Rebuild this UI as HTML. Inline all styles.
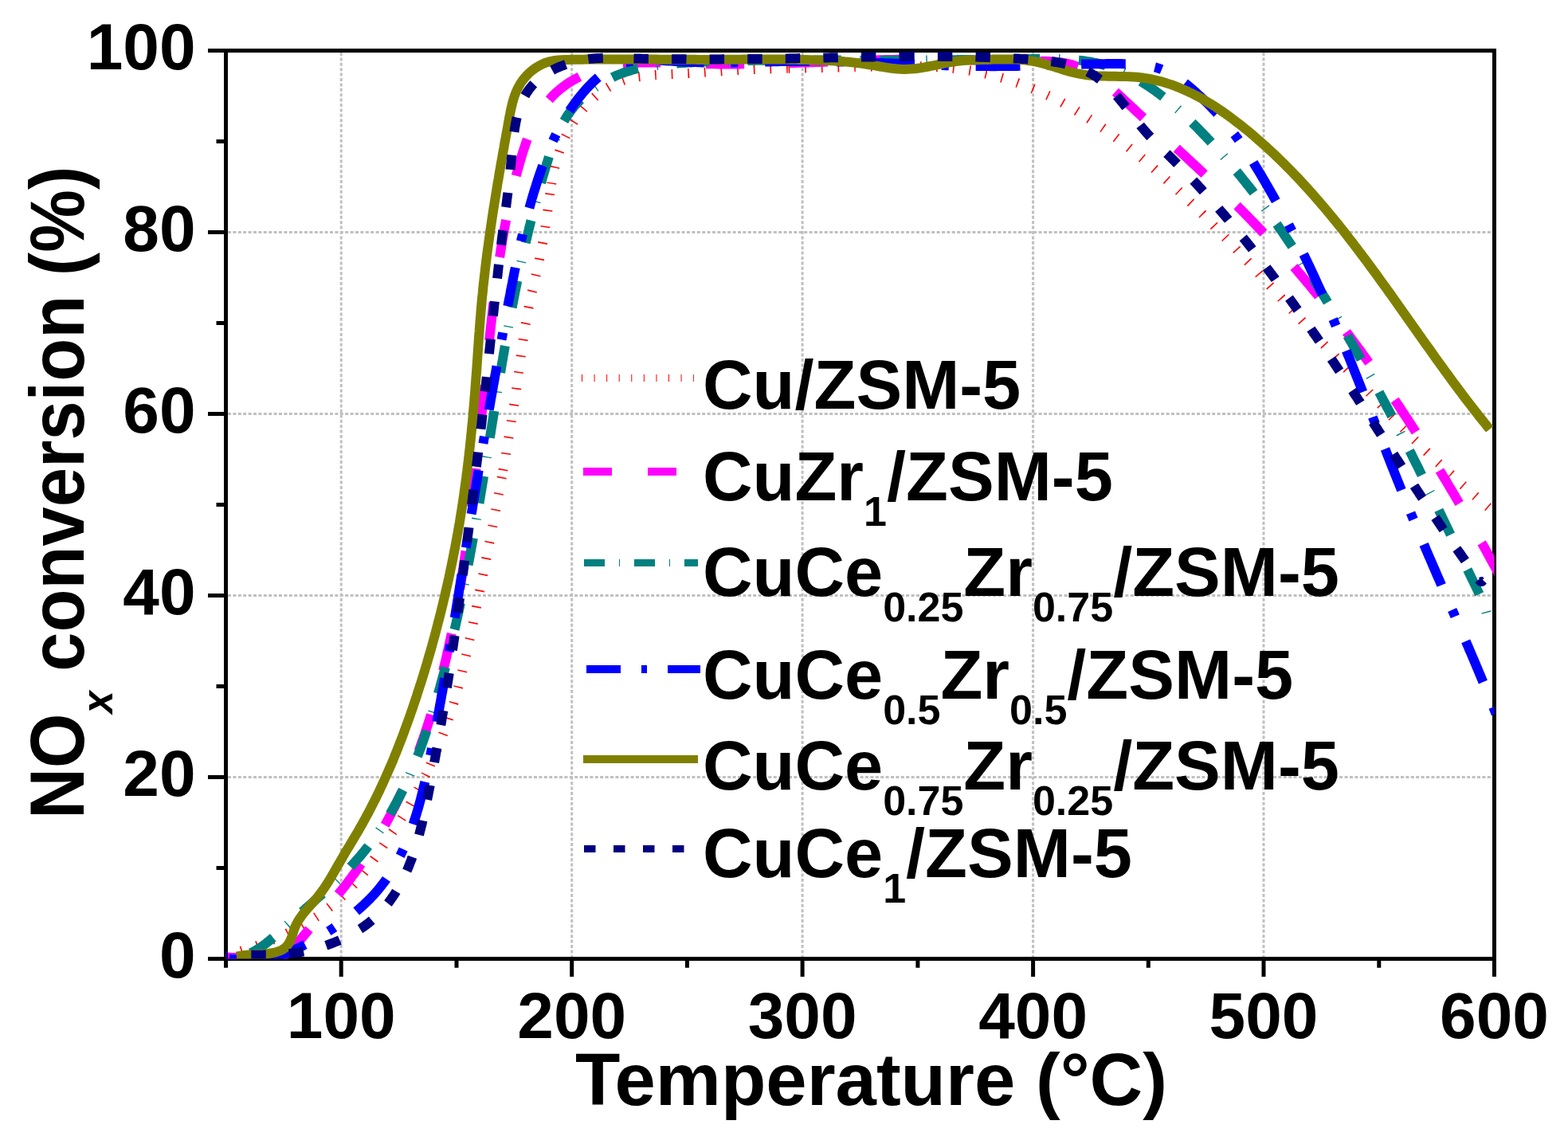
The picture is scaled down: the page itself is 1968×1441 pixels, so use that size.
<!DOCTYPE html><html><head><meta charset="utf-8"><title>NOx conversion vs Temperature</title>
<style>html,body{margin:0;padding:0;background:#fff;}svg{display:block;}text{font-family:'Liberation Sans', Arial, Helvetica, sans-serif;font-weight:bold;fill:#000;}</style></head><body>
<svg width="1968" height="1441" viewBox="0 0 1968 1441">
<rect x="0" y="0" width="1968" height="1441" fill="#fff"/>
<defs><clipPath id="pa"><rect x="283.5" y="63.5" width="1592.0" height="1140.0"/></clipPath></defs>
<path d="M428.2,66.0 V1201.0 M717.7,66.0 V1201.0 M1007.1,66.0 V1201.0 M1296.6,66.0 V1201.0 M1586.0,66.0 V1201.0 M286.0,975.5 H1873.0 M286.0,747.5 H1873.0 M286.0,519.5 H1873.0 M286.0,291.5 H1873.0" stroke="#c0c0c0" stroke-width="3" stroke-dasharray="4 2.4" fill="none"/>
<path d="M283.5,63.5 H1875.5 V1203.5 H283.5 Z" stroke="#000" stroke-width="5" fill="none"/>
<path d="M428.2,1203.5 V1226.0 M717.7,1203.5 V1226.0 M1007.1,1203.5 V1226.0 M1296.6,1203.5 V1226.0 M1586.0,1203.5 V1226.0 M1875.5,1203.5 V1226.0 M283.5,1203.5 V1214.8 M573.0,1203.5 V1214.8 M862.4,1203.5 V1214.8 M1151.9,1203.5 V1214.8 M1441.3,1203.5 V1214.8 M1730.8,1203.5 V1214.8 M283.5,1203.5 H261.0 M283.5,975.5 H261.0 M283.5,747.5 H261.0 M283.5,519.5 H261.0 M283.5,291.5 H261.0 M283.5,63.5 H261.0 M283.5,1089.5 H271.5 M283.5,861.5 H271.5 M283.5,633.5 H271.5 M283.5,405.5 H271.5 M283.5,177.5 H271.5" stroke="#000" stroke-width="5" fill="none" stroke-linecap="butt"/>
<g clip-path="url(#pa)" fill="none" stroke-width="12" stroke-linejoin="round">
<path d="M275.1,1201.7 L277.6,1201.1 L280.1,1200.4 L282.6,1199.7 L285.1,1199.0 L287.6,1198.3 L290.1,1197.6 L292.6,1196.8 L295.1,1196.1 L297.6,1195.3 L300.1,1194.6 L302.6,1193.8 L305.1,1193.0 L307.6,1192.2 L310.1,1191.4 L312.6,1190.6 L315.1,1189.7 L317.6,1188.9 L320.0,1188.0 L322.5,1187.1 L325.0,1186.3 L327.4,1185.4 L329.9,1184.4 L332.3,1183.5 L334.8,1182.6 L337.2,1181.6 L339.6,1180.6 L342.1,1179.6 L344.5,1178.6 L346.9,1177.6 L349.3,1176.6 L351.7,1175.5 L354.1,1174.5 L356.5,1173.4 L358.8,1172.3 L361.2,1171.1 L363.5,1170.0 L365.9,1168.8 L368.2,1167.7 L370.5,1166.5 L372.8,1165.3 L375.1,1164.0 L377.4,1162.8 L379.7,1161.5 L381.9,1160.2 L384.2,1158.9 L386.4,1157.6 L388.6,1156.2 L390.9,1154.9 L393.1,1153.5 L395.2,1152.0 L397.4,1150.6 L399.6,1149.2 L401.7,1147.7 L403.8,1146.2 L405.9,1144.6 L408.0,1143.1 L410.1,1141.5 L412.1,1139.9 L414.2,1138.3 L416.2,1136.7 L418.2,1135.0 L420.2,1133.3 L422.2,1131.6 L424.1,1129.9 L426.1,1128.2 L428.0,1126.4 L429.9,1124.6 L431.8,1122.8 L433.6,1121.0 L435.5,1119.1 L437.3,1117.3 L439.1,1115.4 L440.9,1113.5 L442.7,1111.6 L444.5,1109.7 L446.2,1107.8 L447.9,1105.8 L449.6,1103.9 L451.3,1101.9 L453.0,1099.9 L454.6,1097.9 L456.3,1095.9 L457.9,1093.9 L459.5,1091.9 L461.0,1089.9 L462.6,1087.8 L464.1,1085.8 L465.7,1083.7 L467.2,1081.7 L468.6,1079.6 L470.1,1077.5 L471.5,1075.5 L473.0,1073.4 L474.4,1071.3 L475.8,1069.2 L477.2,1067.1 L478.6,1065.1 L480.0,1063.0 L481.4,1060.9 L482.8,1058.8 L484.3,1056.7 L485.7,1054.7 L487.2,1052.6 L488.6,1050.5 L490.1,1048.4 L491.5,1046.3 L492.9,1044.2 L494.4,1042.1 L495.8,1040.0 L497.2,1037.9 L498.6,1035.7 L500.0,1033.6 L501.4,1031.4 L502.7,1029.3 L504.1,1027.1 L505.5,1024.9 L506.8,1022.7 L508.2,1020.5 L509.5,1018.3 L510.8,1016.1 L512.1,1013.9 L513.4,1011.7 L514.7,1009.4 L516.0,1007.2 L517.3,1004.9 L518.5,1002.7 L519.8,1000.4 L521.1,998.1 L522.3,995.8 L523.5,993.6 L524.8,991.3 L526.0,989.0 L527.2,986.6 L528.4,984.3 L529.5,982.0 L530.7,979.7 L531.9,977.3 L533.0,975.0 L534.2,972.7 L535.3,970.3 L536.4,967.9 L537.6,965.6 L538.7,963.2 L539.8,960.8 L540.3,959.6" stroke="#ff0000" stroke-dasharray="1.60 19.06" stroke-dashoffset="12.75"/>
<path d="M539.8,960.8 L540.8,958.4 L541.9,956.1 L543.0,953.7 L544.0,951.3 L545.1,948.9 L546.1,946.4 L547.2,944.0 L548.2,941.6 L549.2,939.2 L550.2,936.8 L551.2,934.3 L552.1,931.9 L553.1,929.4 L554.0,927.0 L555.0,924.5 L555.9,922.1 L556.8,919.6 L557.8,917.2 L558.7,914.7 L559.5,912.2 L560.4,909.8 L561.3,907.3 L562.2,904.8 L563.0,902.3 L563.8,899.8 L564.7,897.3 L565.5,894.9 L566.3,892.4 L567.1,889.9 L567.9,887.4 L568.6,884.9 L569.4,882.4 L570.1,879.8 L570.9,877.3 L571.6,874.8 L572.3,872.3 L573.1,869.8 L573.8,867.3 L574.5,864.7 L575.2,862.2 L575.8,859.7 L576.5,857.2 L577.2,854.6 L577.8,852.1 L578.5,849.5 L579.1,847.0 L579.8,844.5 L580.4,841.9 L581.0,839.4 L581.7,836.8 L582.3,834.3 L582.9,831.7 L583.5,829.2 L584.1,826.6 L584.7,824.1 L585.3,821.5 L585.8,819.0 L586.4,816.4 L587.0,813.9 L587.6,811.3 L588.1,808.8 L588.7,806.2 L589.2,803.6 L589.8,801.1 L590.3,798.5 L590.9,795.9 L591.4,793.4 L592.0,790.8 L592.5,788.2 L593.1,785.7 L593.6,783.1 L594.1,780.5 L594.7,778.0 L595.2,775.4 L595.7,772.8 L596.2,770.3 L596.8,767.7 L597.3,765.1 L597.8,762.6 L598.3,760.0 L598.9,757.4 L599.4,754.9 L599.9,752.3 L600.4,749.7 L601.0,747.2 L601.5,744.6 L602.0,742.0 L602.5,739.4 L603.1,736.9 L603.6,734.3 L604.1,731.7 L604.6,729.2 L605.1,726.6 L605.7,724.0 L606.2,721.5 L606.7,718.9 L607.2,716.3 L607.7,713.8 L608.2,711.2 L608.8,708.6 L609.3,706.1 L609.8,703.5 L610.3,700.9 L610.8,698.3 L611.3,695.8 L611.8,693.2 L612.4,690.6 L612.9,688.1 L613.4,685.5 L613.9,682.9 L614.4,680.4 L614.9,677.8 L615.4,675.2 L615.9,672.6 L616.4,670.1 L616.9,667.5 L617.4,664.9 L617.9,662.4 L618.4,659.8 L618.9,657.2 L619.4,654.6 L619.9,652.1 L620.4,649.5 L620.9,646.9 L621.4,644.4 L621.9,641.8 L622.4,639.2 L622.8,636.6 L623.3,634.1 L623.8,631.5 L624.3,628.9 L624.8,626.3 L625.3,623.8 L625.7,621.2 L626.2,618.6 L626.7,616.0 L627.2,613.5 L627.6,610.9 L628.1,608.3 L628.6,605.7 L629.1,603.1 L629.5,600.6 L630.0,598.0 L630.0,598.0" stroke="#ff0000" stroke-dasharray="1.60 19.06" stroke-dashoffset="20.11"/>
<path d="M629.8,599.3 L630.2,596.7 L630.7,594.1 L631.2,591.5 L631.6,589.0 L632.1,586.4 L632.5,583.8 L633.0,581.2 L633.4,578.6 L633.9,576.1 L634.3,573.5 L634.8,570.9 L635.2,568.3 L635.7,565.7 L636.1,563.2 L636.6,560.6 L637.0,558.0 L637.4,555.4 L637.9,552.8 L638.3,550.2 L638.7,547.6 L639.2,545.1 L639.6,542.5 L640.0,539.9 L640.4,537.3 L640.9,534.7 L641.3,532.1 L641.7,529.5 L642.1,526.9 L642.5,524.4 L642.9,521.8 L643.3,519.2 L643.8,516.6 L644.2,514.0 L644.6,511.4 L645.0,508.8 L645.4,506.2 L645.7,503.6 L646.1,501.0 L646.5,498.4 L646.9,495.8 L647.3,493.2 L647.7,490.6 L648.1,488.0 L648.4,485.4 L648.8,482.8 L649.2,480.2 L649.6,477.6 L649.9,475.0 L650.3,472.4 L650.6,469.8 L651.0,467.2 L651.4,464.6 L651.7,462.0 L652.1,459.4 L652.4,456.8 L652.8,454.2 L653.1,451.6 L653.5,449.0 L653.8,446.4 L654.2,443.8 L654.5,441.2 L654.9,438.6 L655.2,436.0 L655.6,433.4 L656.0,430.8 L656.3,428.2 L656.7,425.6 L657.1,423.0 L657.5,420.4 L657.9,417.8 L658.3,415.3 L658.7,412.7 L659.1,410.1 L659.5,407.5 L660.0,404.9 L660.4,402.4 L660.8,399.8 L661.3,397.2 L661.8,394.6 L662.3,392.1 L662.8,389.5 L663.3,387.0 L663.8,384.4 L664.3,381.9 L664.9,379.3 L665.4,376.8 L666.0,374.2 L666.5,371.7 L667.1,369.1 L667.7,366.6 L668.3,364.1 L668.9,361.5 L669.5,359.0 L670.1,356.5 L670.7,353.9 L671.3,351.4 L671.8,348.9 L672.4,346.3 L673.0,343.8 L673.6,341.3 L674.2,338.7 L674.8,336.2 L675.3,333.6 L675.9,331.1 L676.5,328.6 L677.0,326.0 L677.5,323.4 L678.1,320.9 L678.6,318.3 L679.1,315.8 L679.6,313.2 L680.1,310.6 L680.5,308.1 L681.0,305.5 L681.5,302.9 L681.9,300.3 L682.4,297.8 L682.8,295.2 L683.2,292.6 L683.6,290.0 L684.0,287.4 L684.4,284.9 L684.8,282.3 L685.2,279.7 L685.6,277.1 L686.0,274.5 L686.4,271.9 L686.7,269.4 L687.1,266.8 L687.4,264.2 L687.8,261.6 L688.1,259.0 L688.5,256.5 L688.8,253.9 L689.2,251.3 L689.5,248.7 L689.9,246.2 L690.2,243.6 L690.6,241.0 L691.0,238.5 L691.4,235.9 L691.8,233.4 L692.2,230.8 L692.4,229.5" stroke="#ff0000" stroke-dasharray="1.60 19.06" stroke-dashoffset="11.78"/>
<path d="M692.2,230.8 L692.6,228.3 L693.1,225.7 L693.6,223.2 L694.0,220.6 L694.6,218.1 L695.1,215.5 L695.7,213.0 L696.2,210.5 L696.8,208.0 L697.5,205.5 L698.2,202.9 L698.9,200.4 L699.6,197.9 L700.4,195.4 L701.2,192.9 L702.0,190.5 L702.9,188.0 L703.8,185.5 L704.8,183.0 L705.7,180.6 L706.8,178.1 L707.8,175.7 L708.9,173.3 L710.1,170.9 L711.3,168.5 L712.5,166.1 L713.7,163.8 L715.0,161.4 L716.3,159.1 L717.7,156.8 L719.1,154.6 L720.5,152.3 L721.9,150.1 L723.4,147.9 L725.0,145.7 L726.5,143.6 L728.1,141.5 L729.8,139.4 L731.4,137.4 L733.1,135.4 L734.9,133.4 L736.6,131.5 L738.4,129.6 L740.3,127.7 L742.1,125.9 L744.0,124.1 L746.0,122.3 L747.9,120.6 L749.9,119.0 L752.0,117.4 L754.0,115.8 L756.1,114.3 L758.2,112.8 L760.4,111.4 L762.6,110.0 L764.8,108.7 L767.0,107.5 L769.3,106.3 L771.6,105.2 L773.9,104.1 L776.3,103.1 L778.6,102.1 L781.0,101.3 L783.5,100.4 L785.9,99.7 L788.4,99.0 L790.9,98.4 L793.4,97.8 L796.0,97.3 L798.5,96.8 L801.1,96.3 L803.7,96.0 L806.3,95.6 L808.9,95.3 L811.6,95.0 L814.2,94.7 L816.8,94.5 L819.5,94.3 L822.2,94.1 L824.8,94.0 L827.5,93.8 L830.2,93.7 L832.9,93.6 L835.5,93.5 L838.2,93.3 L840.9,93.2 L843.6,93.1 L846.2,93.0 L848.9,92.8 L851.5,92.7 L854.2,92.6 L856.8,92.4 L859.5,92.3 L862.1,92.1 L864.8,92.0 L867.4,91.8 L870.0,91.6 L872.6,91.5 L875.3,91.3 L877.9,91.1 L880.5,91.0 L883.1,90.8 L885.7,90.6 L888.3,90.4 L891.0,90.3 L893.6,90.1 L896.2,89.9 L898.8,89.8 L901.4,89.6 L904.0,89.4 L906.6,89.2 L909.2,89.1 L911.8,88.9 L914.4,88.8 L917.0,88.6 L919.6,88.4 L922.2,88.3 L924.8,88.2 L927.4,88.0 L930.0,87.9 L932.6,87.7 L935.2,87.6 L937.8,87.5 L940.4,87.4 L943.0,87.3 L945.6,87.1 L948.2,87.0 L950.8,86.9 L953.4,86.8 L956.1,86.7 L958.7,86.7 L961.3,86.6 L963.9,86.5 L966.5,86.4 L969.1,86.3 L971.7,86.2 L974.4,86.2 L977.0,86.1 L979.6,86.0 L982.2,86.0 L984.8,85.9 L987.4,85.8 L990.1,85.8 L990.1,85.8" stroke="#ff0000" stroke-dasharray="1.60 19.06" stroke-dashoffset="0.11"/>
<path d="M988.7,85.8 L991.4,85.7 L994.0,85.7 L996.6,85.6 L999.2,85.6 L1001.8,85.5 L1004.5,85.5 L1007.1,85.4 L1009.7,85.4 L1012.3,85.3 L1015.0,85.3 L1017.6,85.2 L1020.2,85.2 L1022.8,85.1 L1025.5,85.1 L1028.1,85.0 L1030.7,85.0 L1033.3,84.9 L1036.0,84.9 L1038.6,84.8 L1041.2,84.8 L1043.8,84.7 L1046.5,84.7 L1049.1,84.6 L1051.7,84.6 L1054.3,84.5 L1057.0,84.5 L1059.6,84.4 L1062.2,84.4 L1064.9,84.3 L1067.5,84.3 L1070.1,84.2 L1072.7,84.1 L1075.4,84.1 L1078.0,84.0 L1080.6,83.9 L1083.3,83.9 L1085.9,83.8 L1088.5,83.7 L1091.2,83.7 L1093.8,83.6 L1096.4,83.5 L1099.0,83.5 L1101.7,83.4 L1104.3,83.3 L1106.9,83.3 L1109.5,83.2 L1112.2,83.2 L1114.8,83.1 L1117.4,83.1 L1120.0,83.0 L1122.7,83.0 L1125.3,83.0 L1127.9,83.0 L1130.5,82.9 L1133.2,82.9 L1135.8,82.9 L1138.4,82.9 L1141.0,82.9 L1143.6,83.0 L1146.3,83.0 L1148.9,83.0 L1151.5,83.1 L1154.1,83.1 L1156.7,83.2 L1159.3,83.3 L1162.0,83.4 L1164.6,83.5 L1167.2,83.6 L1169.8,83.7 L1172.4,83.8 L1175.0,84.0 L1177.6,84.2 L1180.2,84.3 L1182.8,84.5 L1185.4,84.7 L1188.0,84.9 L1190.6,85.2 L1193.2,85.4 L1195.8,85.7 L1198.4,86.0 L1201.0,86.3 L1203.6,86.6 L1206.2,86.9 L1208.7,87.3 L1211.3,87.7 L1213.9,88.1 L1216.5,88.5 L1219.1,88.9 L1221.7,89.4 L1224.2,89.8 L1226.8,90.3 L1229.4,90.8 L1231.9,91.4 L1234.5,91.9 L1237.1,92.5 L1239.6,93.1 L1242.2,93.7 L1244.7,94.3 L1247.3,94.9 L1249.8,95.6 L1252.4,96.3 L1254.9,97.0 L1257.4,97.7 L1259.9,98.4 L1262.5,99.2 L1265.0,100.0 L1267.5,100.7 L1270.0,101.6 L1272.5,102.4 L1275.0,103.2 L1277.5,104.1 L1279.9,105.0 L1282.4,105.9 L1284.9,106.8 L1287.3,107.7 L1289.8,108.7 L1292.2,109.6 L1294.6,110.6 L1297.1,111.6 L1299.5,112.6 L1301.9,113.7 L1304.3,114.7 L1306.7,115.8 L1309.1,116.9 L1311.4,118.0 L1313.8,119.1 L1316.2,120.2 L1318.5,121.3 L1320.9,122.5 L1323.2,123.7 L1325.5,124.9 L1327.9,126.1 L1330.2,127.3 L1332.5,128.5 L1334.8,129.8 L1337.1,131.0 L1339.4,132.3 L1341.6,133.6 L1343.9,134.9 L1346.2,136.2 L1348.4,137.5 L1350.7,138.8 L1352.9,140.2 L1352.9,140.2" stroke="#ff0000" stroke-dasharray="1.60 19.06" stroke-dashoffset="19.78"/>
<path d="M1351.8,139.5 L1354.0,140.9 L1356.3,142.2 L1358.5,143.6 L1360.7,145.0 L1362.9,146.4 L1365.1,147.8 L1367.3,149.3 L1369.5,150.7 L1371.7,152.1 L1373.9,153.6 L1376.0,155.1 L1378.2,156.5 L1380.4,158.0 L1382.5,159.5 L1384.7,161.0 L1386.8,162.5 L1388.9,164.1 L1391.0,165.6 L1393.2,167.1 L1395.3,168.7 L1397.4,170.3 L1399.5,171.8 L1401.6,173.4 L1403.7,175.0 L1405.8,176.6 L1407.8,178.2 L1409.9,179.8 L1412.0,181.4 L1414.0,183.0 L1416.1,184.6 L1418.2,186.3 L1420.2,187.9 L1422.2,189.5 L1424.3,191.2 L1426.3,192.8 L1428.3,194.5 L1430.3,196.2 L1432.4,197.8 L1434.4,199.5 L1436.4,201.2 L1438.4,202.9 L1440.4,204.6 L1442.3,206.3 L1444.3,208.0 L1446.3,209.7 L1448.3,211.4 L1450.3,213.2 L1452.2,214.9 L1454.2,216.6 L1456.1,218.4 L1458.1,220.1 L1460.0,221.8 L1462.0,223.6 L1463.9,225.4 L1465.8,227.1 L1467.8,228.9 L1469.7,230.7 L1471.6,232.4 L1473.5,234.2 L1475.5,236.0 L1477.4,237.8 L1479.3,239.6 L1481.2,241.4 L1483.1,243.2 L1485.0,245.0 L1486.9,246.8 L1488.7,248.6 L1490.6,250.4 L1492.5,252.3 L1494.4,254.1 L1496.3,255.9 L1498.1,257.8 L1500.0,259.6 L1501.9,261.4 L1503.7,263.3 L1505.6,265.1 L1507.4,267.0 L1509.3,268.8 L1511.1,270.7 L1513.0,272.5 L1514.8,274.4 L1516.6,276.3 L1518.5,278.1 L1520.3,280.0 L1522.2,281.9 L1524.0,283.8 L1525.8,285.7 L1527.6,287.5 L1529.5,289.4 L1531.3,291.3 L1533.1,293.2 L1534.9,295.1 L1536.7,297.0 L1538.5,298.9 L1540.3,300.8 L1542.1,302.7 L1543.9,304.6 L1545.7,306.5 L1547.5,308.4 L1549.3,310.3 L1551.1,312.2 L1552.9,314.2 L1554.7,316.1 L1556.5,318.0 L1558.3,319.9 L1560.1,321.8 L1561.9,323.7 L1563.7,325.7 L1565.4,327.6 L1567.2,329.5 L1569.0,331.4 L1570.8,333.4 L1572.6,335.3 L1574.3,337.2 L1576.1,339.2 L1577.9,341.1 L1579.7,343.0 L1581.4,345.0 L1583.2,346.9 L1585.0,348.8 L1586.8,350.8 L1588.5,352.7 L1590.3,354.7 L1592.1,356.6 L1593.8,358.5 L1595.6,360.5 L1597.4,362.4 L1599.1,364.3 L1600.9,366.3 L1602.7,368.2 L1604.4,370.2 L1606.2,372.1 L1608.0,374.0 L1609.7,376.0 L1611.5,377.9 L1613.3,379.8 L1615.0,381.8 L1616.8,383.7 L1618.6,385.7 L1620.3,387.6 L1622.1,389.5 L1623.9,391.5 L1625.2,392.9" stroke="#ff0000" stroke-dasharray="1.60 19.06" stroke-dashoffset="3.21"/>
<path d="M1624.3,391.9 L1626.1,393.9 L1627.9,395.8 L1629.6,397.7 L1631.4,399.7 L1633.2,401.6 L1634.9,403.5 L1636.7,405.4 L1638.5,407.4 L1640.3,409.3 L1642.0,411.2 L1643.8,413.1 L1645.6,415.1 L1647.4,417.0 L1649.1,418.9 L1650.9,420.8 L1652.7,422.7 L1654.5,424.7 L1656.3,426.6 L1658.0,428.5 L1659.8,430.4 L1661.6,432.3 L1663.4,434.2 L1665.2,436.1 L1667.0,438.0 L1668.7,440.0 L1670.5,441.9 L1672.3,443.8 L1674.1,445.7 L1675.9,447.6 L1677.7,449.5 L1679.5,451.4 L1681.2,453.3 L1683.0,455.2 L1684.8,457.1 L1686.6,459.0 L1688.4,460.9 L1690.2,462.8 L1692.0,464.7 L1693.8,466.6 L1695.6,468.5 L1697.4,470.4 L1699.1,472.3 L1700.9,474.2 L1702.7,476.1 L1704.5,478.0 L1706.3,479.9 L1708.1,481.8 L1709.9,483.7 L1711.7,485.6 L1713.5,487.5 L1715.3,489.4 L1717.1,491.3 L1718.9,493.2 L1720.7,495.1 L1722.5,497.0 L1724.3,498.9 L1726.1,500.8 L1727.9,502.7 L1729.7,504.6 L1731.5,506.5 L1733.3,508.4 L1735.1,510.3 L1736.9,512.2 L1738.7,514.1 L1740.5,516.0 L1742.3,517.9 L1744.1,519.8 L1745.9,521.7 L1747.7,523.6 L1749.5,525.5 L1751.3,527.3 L1753.1,529.2 L1754.9,531.1 L1756.7,533.0 L1758.5,534.9 L1760.4,536.8 L1762.2,538.6 L1764.0,540.5 L1765.8,542.4 L1767.7,544.3 L1769.5,546.1 L1771.3,548.0 L1773.2,549.8 L1775.0,551.7 L1776.9,553.5 L1778.7,555.4 L1780.6,557.2 L1782.4,559.1 L1784.3,560.9 L1786.2,562.7 L1788.1,564.5 L1789.9,566.4 L1791.8,568.2 L1793.7,570.0 L1795.6,571.8 L1797.5,573.6 L1799.4,575.4 L1801.3,577.2 L1803.2,579.0 L1805.1,580.8 L1807.0,582.5 L1808.9,584.3 L1810.8,586.1 L1812.8,587.9 L1814.7,589.6 L1816.6,591.4 L1818.5,593.2 L1820.5,594.9 L1822.4,596.7 L1824.3,598.4 L1826.3,600.2 L1828.2,601.9 L1830.2,603.7 L1832.1,605.4 L1834.1,607.2 L1836.0,608.9 L1838.0,610.6 L1840.0,612.4 L1841.9,614.1 L1843.9,615.8 L1845.9,617.5 L1847.8,619.2 L1849.8,621.0 L1851.8,622.7 L1853.7,624.4 L1855.7,626.1 L1857.7,627.8 L1859.7,629.5 L1861.7,631.2 L1863.7,632.9 L1865.6,634.6 L1867.6,636.3 L1869.6,638.0 L1871.6,639.7 L1873.6,641.4 L1875.6,643.1 L1877.6,644.7 L1879.6,646.4 L1881.6,648.1 L1883.6,649.8 L1885.6,651.5 L1887.6,653.1 L1889.6,654.8 L1889.6,654.8" stroke="#ff0000" stroke-dasharray="1.60 19.06" stroke-dashoffset="6.91"/>
<path d="M270.0,1203.1 L272.5,1202.6 L275.1,1202.2 L277.7,1202.0 L280.4,1201.8 L283.1,1201.7 L285.8,1201.7 L288.6,1201.8 L291.4,1201.9 L294.3,1202.0 L297.2,1202.2 L300.1,1202.4 L303.0,1202.7 L305.9,1203.0 L308.8,1203.2 L311.8,1203.5 L314.7,1203.7 L317.6,1203.9 L320.5,1204.1 L323.4,1204.3 L326.3,1204.4 L329.1,1204.4 L331.9,1204.4 L334.7,1204.3 L337.4,1204.1 L340.1,1203.8 L342.7,1203.4 L345.3,1202.9 L347.8,1202.3 L350.3,1201.6 L352.6,1200.7 L354.9,1199.7 L357.1,1198.5 L359.3,1197.2 L361.3,1195.8 L363.3,1194.2 L365.3,1192.5 L367.2,1190.7 L369.0,1188.9 L370.8,1186.9 L372.6,1184.9 L374.4,1182.9 L376.1,1180.8 L377.9,1178.7 L379.6,1176.5 L381.3,1174.4 L383.1,1172.2 L384.9,1170.1 L386.6,1168.0 L388.4,1165.8 L390.2,1163.7 L392.0,1161.5 L393.8,1159.4 L395.6,1157.3 L397.4,1155.1 L399.2,1153.0 L401.0,1150.8 L402.8,1148.7 L404.7,1146.5 L406.5,1144.4 L408.3,1142.2 L410.1,1140.0 L411.9,1137.9 L413.7,1135.7 L415.5,1133.5 L417.3,1131.4 L419.1,1129.2 L420.9,1127.0 L422.7,1124.8 L424.5,1122.6 L426.3,1120.4 L428.0,1118.2 L429.8,1116.0 L431.5,1113.8 L433.3,1111.6 L435.0,1109.4 L436.7,1107.2 L438.4,1104.9 L440.1,1102.7 L441.7,1100.4 L443.4,1098.2 L445.1,1095.9 L446.7,1093.6 L448.3,1091.4 L449.9,1089.1 L451.5,1086.8 L453.1,1084.5 L454.7,1082.2 L456.2,1079.9 L457.8,1077.6 L459.3,1075.3 L460.8,1073.0 L462.3,1070.6 L463.8,1068.3 L465.3,1066.0 L466.8,1063.6 L468.2,1061.3 L469.7,1058.9 L471.1,1056.5 L472.6,1054.2 L474.0,1051.8 L475.4,1049.4 L476.8,1047.0 L478.1,1044.6 L479.5,1042.2 L480.9,1039.8 L482.2,1037.4 L483.6,1035.0 L484.9,1032.6 L486.2,1030.2 L487.5,1027.8 L488.8,1025.3 L490.1,1022.9 L491.3,1020.4 L492.6,1018.0 L493.8,1015.5 L495.1,1013.1 L496.3,1010.6 L497.5,1008.2 L498.7,1005.7 L499.9,1003.2 L501.1,1000.7 L502.3,998.2 L503.4,995.8 L504.6,993.3 L505.7,990.8 L506.3,989.5" stroke="#ff00ff" stroke-dasharray="48.08 56.92" stroke-dashoffset="20.00"/>
<path d="M505.7,990.8 L506.9,988.3 L508.0,985.7 L509.1,983.2 L510.2,980.7 L511.3,978.2 L512.4,975.7 L513.4,973.1 L514.5,970.6 L515.6,968.1 L516.6,965.5 L517.6,963.0 L518.7,960.4 L519.7,957.9 L520.7,955.3 L521.7,952.8 L522.7,950.2 L523.7,947.6 L524.6,945.0 L525.6,942.5 L526.5,939.9 L527.5,937.3 L528.4,934.7 L529.3,932.1 L530.3,929.5 L531.2,926.9 L532.1,924.3 L533.0,921.7 L533.9,919.1 L534.7,916.5 L535.6,913.9 L536.5,911.3 L537.3,908.6 L538.2,906.0 L539.0,903.4 L539.8,900.8 L540.6,898.1 L541.4,895.5 L542.2,892.8 L543.0,890.2 L543.8,887.6 L544.6,884.9 L545.4,882.3 L546.2,879.6 L546.9,877.0 L547.7,874.3 L548.4,871.6 L549.1,869.0 L549.9,866.3 L550.6,863.6 L551.3,861.0 L552.0,858.3 L552.7,855.6 L553.4,852.9 L554.1,850.3 L554.8,847.6 L555.5,844.9 L556.1,842.2 L556.8,839.5 L557.4,836.8 L558.1,834.1 L558.7,831.4 L559.4,828.7 L560.0,826.0 L560.6,823.3 L561.2,820.6 L561.8,817.9 L562.4,815.2 L563.0,812.5 L563.6,809.8 L564.2,807.1 L564.8,804.4 L565.4,801.7 L566.0,799.0 L566.5,796.2 L567.1,793.5 L567.6,790.8 L568.2,788.1 L568.7,785.4 L569.3,782.6 L569.8,779.9 L570.3,777.2 L570.8,774.5 L571.4,771.7 L571.9,769.0 L572.4,766.3 L572.9,763.6 L573.4,760.8 L573.9,758.1 L574.4,755.4 L574.8,752.6 L575.3,749.9 L575.8,747.2 L576.3,744.4 L576.7,741.7 L577.2,739.0 L577.7,736.2 L578.1,733.5 L578.6,730.7 L579.0,728.0 L579.4,725.3 L579.9,722.5 L580.3,719.8 L580.7,717.1 L581.2,714.3 L581.6,711.6 L582.0,708.8 L582.4,706.1 L582.8,703.4 L583.2,700.6 L583.6,697.9 L584.0,695.1 L584.4,692.4 L584.8,689.7 L585.2,686.9 L585.6,684.2 L586.0,681.4 L586.4,678.7 L586.8,676.0 L587.1,673.2 L587.5,670.5 L587.9,667.7 L588.2,665.0 L588.6,662.2 L589.0,659.5 L589.3,656.7 L589.6,654.7" stroke="#ff00ff" stroke-dasharray="48.08 56.92" stroke-dashoffset="52.73"/>
<path d="M589.4,656.1 L589.8,653.3 L590.1,650.6 L590.5,647.8 L590.8,645.1 L591.2,642.3 L591.5,639.6 L591.8,636.9 L592.2,634.1 L592.5,631.4 L592.8,628.6 L593.2,625.9 L593.5,623.1 L593.8,620.4 L594.1,617.6 L594.5,614.9 L594.8,612.1 L595.1,609.4 L595.4,606.6 L595.7,603.9 L596.0,601.2 L596.3,598.4 L596.7,595.7 L597.0,592.9 L597.3,590.2 L597.6,587.4 L597.9,584.7 L598.2,581.9 L598.5,579.2 L598.8,576.4 L599.1,573.7 L599.4,570.9 L599.6,568.2 L599.9,565.4 L600.2,562.7 L600.5,559.9 L600.8,557.2 L601.1,554.4 L601.4,551.7 L601.7,549.0 L602.0,546.2 L602.2,543.5 L602.5,540.7 L602.8,538.0 L603.1,535.2 L603.4,532.5 L603.6,529.7 L603.9,527.0 L604.2,524.2 L604.5,521.5 L604.8,518.7 L605.0,516.0 L605.3,513.2 L605.6,510.5 L605.9,507.7 L606.2,505.0 L606.4,502.2 L606.7,499.5 L607.0,496.7 L607.3,494.0 L607.5,491.3 L607.8,488.5 L608.1,485.8 L608.4,483.0 L608.6,480.3 L608.9,477.5 L609.2,474.8 L609.5,472.0 L609.8,469.3 L610.0,466.5 L610.3,463.8 L610.6,461.0 L610.9,458.3 L611.2,455.6 L611.5,452.8 L611.7,450.1 L612.0,447.3 L612.3,444.6 L612.6,441.8 L612.9,439.1 L613.2,436.3 L613.5,433.6 L613.8,430.8 L614.0,428.1 L614.3,425.4 L614.6,422.6 L614.9,419.9 L615.2,417.1 L615.5,414.4 L615.8,411.6 L616.1,408.9 L616.4,406.2 L616.7,403.4 L617.0,400.7 L617.4,397.9 L617.7,395.2 L618.0,392.5 L618.3,389.7 L618.6,387.0 L618.9,384.2 L619.3,381.5 L619.6,378.8 L619.9,376.0 L620.2,373.3 L620.6,370.5 L620.9,367.8 L621.3,365.1 L621.6,362.3 L622.0,359.6 L622.3,356.9 L622.7,354.1 L623.0,351.4 L623.4,348.6 L623.8,345.9 L624.2,343.2 L624.5,340.4 L624.9,337.7 L625.3,335.0 L625.7,332.2 L626.1,329.5 L626.5,326.8 L626.9,324.0 L627.4,321.3 L627.8,318.6 L628.2,315.8 L628.6,313.1 L628.9,311.7" stroke="#ff00ff" stroke-dasharray="48.08 56.92" stroke-dashoffset="84.61"/>
<path d="M628.6,313.1 L629.1,310.4 L629.5,307.7 L630.0,304.9 L630.4,302.2 L630.9,299.5 L631.4,296.7 L631.9,294.0 L632.3,291.3 L632.8,288.6 L633.3,285.8 L633.8,283.1 L634.4,280.4 L634.9,277.6 L635.4,274.9 L636.0,272.2 L636.5,269.5 L637.1,266.8 L637.6,264.0 L638.2,261.3 L638.8,258.6 L639.4,255.9 L640.0,253.1 L640.6,250.4 L641.2,247.7 L641.8,245.0 L642.4,242.3 L643.1,239.5 L643.7,236.8 L644.4,234.1 L645.1,231.4 L645.7,228.7 L646.4,226.0 L647.1,223.3 L647.8,220.5 L648.6,217.8 L649.3,215.1 L650.0,212.4 L650.8,209.7 L651.5,207.0 L652.3,204.3 L653.1,201.6 L653.9,198.8 L654.7,196.1 L655.5,193.4 L656.4,190.7 L657.2,188.1 L658.1,185.4 L659.0,182.7 L659.9,180.0 L660.9,177.4 L661.8,174.8 L662.8,172.1 L663.8,169.5 L664.9,166.9 L665.9,164.4 L667.0,161.8 L668.2,159.3 L669.3,156.8 L670.5,154.3 L671.8,151.8 L673.0,149.4 L674.4,147.0 L675.7,144.6 L677.1,142.3 L678.5,139.9 L680.0,137.6 L681.5,135.4 L683.1,133.2 L684.7,131.0 L686.3,128.9 L688.0,126.7 L689.8,124.7 L691.6,122.7 L693.5,120.7 L695.4,118.7 L697.4,116.8 L699.4,115.0 L701.5,113.2 L703.6,111.4 L705.8,109.7 L708.0,108.1 L710.3,106.4 L712.6,104.9 L714.9,103.3 L717.3,101.9 L719.8,100.4 L722.2,99.0 L724.7,97.7 L727.3,96.4 L729.8,95.1 L732.4,93.9 L735.0,92.8 L737.7,91.7 L740.3,90.6 L743.0,89.6 L745.7,88.6 L748.4,87.7 L751.1,86.8 L753.9,86.0 L756.6,85.2 L759.4,84.4 L762.1,83.8 L764.9,83.1 L767.7,82.5 L770.4,82.0 L773.2,81.5 L776.0,81.0 L778.7,80.6 L781.5,80.2 L784.3,79.9 L787.0,79.6 L789.8,79.3 L792.6,79.1 L795.3,78.9 L798.1,78.8 L800.8,78.7 L803.6,78.6 L806.3,78.5 L809.1,78.4 L811.9,78.4 L814.6,78.4 L817.4,78.4 L820.1,78.4 L822.9,78.5 L825.0,78.5" stroke="#ff00ff" stroke-dasharray="48.08 56.92" stroke-dashoffset="10.47"/>
<path d="M823.6,78.5 L826.3,78.6 L829.1,78.6 L831.8,78.7 L834.6,78.8 L837.4,78.9 L840.1,79.0 L842.9,79.1 L845.6,79.2 L848.4,79.3 L851.1,79.4 L853.9,79.5 L856.7,79.6 L859.4,79.6 L862.2,79.7 L864.9,79.8 L867.7,79.9 L870.5,79.9 L873.2,80.0 L876.0,80.0 L878.7,80.1 L881.5,80.1 L884.3,80.2 L887.0,80.2 L889.8,80.3 L892.6,80.3 L895.3,80.3 L898.1,80.3 L900.8,80.4 L903.6,80.4 L906.4,80.4 L909.1,80.4 L911.9,80.4 L914.7,80.4 L917.4,80.4 L920.2,80.4 L923.0,80.4 L925.7,80.4 L928.5,80.4 L931.3,80.3 L934.0,80.3 L936.8,80.3 L939.6,80.3 L942.3,80.2 L945.1,80.2 L947.9,80.2 L950.6,80.1 L953.4,80.1 L956.2,80.0 L958.9,80.0 L961.7,79.9 L964.5,79.8 L967.2,79.8 L970.0,79.7 L972.8,79.6 L975.5,79.6 L978.3,79.5 L981.1,79.4 L983.8,79.3 L986.6,79.3 L989.4,79.2 L992.2,79.1 L994.9,79.0 L997.7,78.9 L1000.5,78.8 L1003.2,78.7 L1006.0,78.6 L1008.8,78.6 L1011.5,78.5 L1014.3,78.4 L1017.1,78.3 L1019.8,78.2 L1022.6,78.1 L1025.4,78.0 L1028.1,77.9 L1030.9,77.8 L1033.7,77.7 L1036.4,77.6 L1039.2,77.5 L1042.0,77.4 L1044.7,77.3 L1047.5,77.2 L1050.3,77.1 L1053.0,77.0 L1055.8,76.9 L1058.6,76.8 L1061.3,76.7 L1064.1,76.6 L1066.9,76.5 L1069.6,76.4 L1072.4,76.3 L1075.2,76.2 L1077.9,76.1 L1080.7,76.0 L1083.4,75.9 L1086.2,75.8 L1089.0,75.7 L1091.7,75.7 L1094.5,75.6 L1097.3,75.5 L1100.0,75.4 L1102.8,75.3 L1105.5,75.3 L1108.3,75.2 L1111.1,75.1 L1113.8,75.1 L1116.6,75.0 L1119.3,74.9 L1122.1,74.9 L1124.9,74.8 L1127.6,74.8 L1130.4,74.7 L1133.1,74.7 L1135.9,74.6 L1138.7,74.6 L1141.4,74.6 L1144.2,74.5 L1146.9,74.5 L1149.7,74.5 L1152.4,74.5 L1155.2,74.4 L1157.9,74.4 L1160.7,74.4 L1163.4,74.4 L1166.2,74.4 L1168.9,74.4 L1171.0,74.5" stroke="#ff00ff" stroke-dasharray="48.08 56.92" stroke-dashoffset="42.52"/>
<path d="M1169.6,74.4 L1172.4,74.5 L1175.1,74.5 L1177.9,74.5 L1180.6,74.5 L1183.4,74.6 L1186.1,74.6 L1188.9,74.6 L1191.6,74.7 L1194.4,74.7 L1197.1,74.8 L1199.9,74.8 L1202.6,74.9 L1205.4,74.9 L1208.1,75.0 L1210.9,75.1 L1213.7,75.1 L1216.4,75.2 L1219.2,75.2 L1221.9,75.3 L1224.7,75.4 L1227.4,75.4 L1230.2,75.5 L1233.0,75.6 L1235.7,75.6 L1238.5,75.7 L1241.3,75.8 L1244.1,75.8 L1246.8,75.9 L1249.6,76.0 L1252.4,76.0 L1255.2,76.1 L1257.9,76.1 L1260.7,76.2 L1263.5,76.2 L1266.3,76.3 L1269.1,76.3 L1271.9,76.4 L1274.7,76.4 L1277.5,76.4 L1280.3,76.5 L1283.1,76.5 L1285.9,76.5 L1288.8,76.6 L1291.6,76.6 L1294.4,76.6 L1297.2,76.6 L1300.1,76.6 L1302.9,76.6 L1305.7,76.7 L1308.5,76.7 L1311.3,76.8 L1314.1,76.9 L1316.9,77.1 L1319.7,77.2 L1322.5,77.4 L1325.2,77.7 L1328.0,78.0 L1330.7,78.3 L1333.4,78.7 L1336.0,79.2 L1338.7,79.7 L1341.3,80.2 L1343.9,80.9 L1346.5,81.6 L1349.0,82.4 L1351.5,83.3 L1354.0,84.2 L1356.5,85.3 L1358.9,86.3 L1361.3,87.5 L1363.7,88.7 L1366.0,90.0 L1368.4,91.3 L1370.7,92.7 L1373.0,94.1 L1375.2,95.6 L1377.5,97.2 L1379.7,98.8 L1381.9,100.4 L1384.1,102.1 L1386.3,103.8 L1388.5,105.5 L1390.6,107.3 L1392.8,109.1 L1394.9,110.9 L1397.0,112.7 L1399.2,114.6 L1401.3,116.5 L1403.4,118.4 L1405.5,120.3 L1407.5,122.2 L1409.6,124.2 L1411.7,126.1 L1413.8,128.1 L1415.9,130.0 L1417.9,131.9 L1420.0,133.9 L1422.1,135.8 L1424.2,137.7 L1426.2,139.7 L1428.3,141.6 L1430.4,143.5 L1432.4,145.4 L1434.5,147.4 L1436.6,149.3 L1438.7,151.2 L1440.7,153.1 L1442.8,155.0 L1444.9,156.9 L1446.9,158.8 L1449.0,160.7 L1451.1,162.6 L1453.1,164.5 L1455.2,166.4 L1457.2,168.3 L1459.3,170.2 L1461.4,172.1 L1463.4,174.0 L1465.5,175.9 L1467.5,177.7 L1469.6,179.6 L1471.6,181.5 L1473.7,183.4 L1475.7,185.3 L1477.8,187.2 L1477.8,187.2" stroke="#ff00ff" stroke-dasharray="48.08 56.92" stroke-dashoffset="74.08"/>
<path d="M1476.8,186.2 L1478.8,188.1 L1480.9,190.0 L1482.9,191.9 L1484.9,193.8 L1487.0,195.6 L1489.0,197.5 L1491.0,199.4 L1493.1,201.3 L1495.1,203.2 L1497.1,205.1 L1499.2,206.9 L1501.2,208.8 L1503.2,210.7 L1505.2,212.6 L1507.2,214.5 L1509.3,216.4 L1511.3,218.3 L1513.3,220.2 L1515.3,222.1 L1517.3,224.0 L1519.3,225.8 L1521.3,227.7 L1523.3,229.6 L1525.3,231.5 L1527.3,233.5 L1529.3,235.4 L1531.2,237.3 L1533.2,239.2 L1535.2,241.1 L1537.2,243.0 L1539.2,244.9 L1541.1,246.8 L1543.1,248.8 L1545.0,250.7 L1547.0,252.6 L1549.0,254.6 L1550.9,256.5 L1552.9,258.4 L1554.8,260.4 L1556.7,262.3 L1558.7,264.3 L1560.6,266.2 L1562.5,268.2 L1564.5,270.2 L1566.4,272.1 L1568.3,274.1 L1570.2,276.1 L1572.1,278.0 L1574.0,280.0 L1575.9,282.0 L1577.8,284.0 L1579.7,286.0 L1581.6,288.0 L1583.5,290.0 L1585.4,292.0 L1587.3,294.0 L1589.1,296.0 L1591.0,298.1 L1592.9,300.1 L1594.8,302.1 L1596.6,304.1 L1598.5,306.2 L1600.3,308.2 L1602.2,310.3 L1604.0,312.3 L1605.9,314.3 L1607.7,316.4 L1609.5,318.5 L1611.4,320.5 L1613.2,322.6 L1615.0,324.7 L1616.8,326.7 L1618.6,328.8 L1620.4,330.9 L1622.3,333.0 L1624.1,335.0 L1625.9,337.1 L1627.7,339.2 L1629.4,341.3 L1631.2,343.4 L1633.0,345.5 L1634.8,347.6 L1636.6,349.8 L1638.4,351.9 L1640.1,354.0 L1641.9,356.1 L1643.7,358.2 L1645.4,360.4 L1647.2,362.5 L1648.9,364.6 L1650.7,366.8 L1652.4,368.9 L1654.2,371.0 L1655.9,373.2 L1657.6,375.3 L1659.4,377.5 L1661.1,379.7 L1662.8,381.8 L1664.5,384.0 L1666.3,386.1 L1668.0,388.3 L1669.7,390.5 L1671.4,392.7 L1673.1,394.8 L1674.8,397.0 L1676.5,399.2 L1678.2,401.4 L1679.9,403.6 L1681.6,405.8 L1683.2,408.0 L1684.9,410.2 L1686.6,412.4 L1688.3,414.6 L1689.9,416.8 L1691.6,419.0 L1693.3,421.2 L1694.9,423.4 L1696.6,425.7 L1698.2,427.9 L1699.9,430.1 L1701.5,432.3 L1703.2,434.6 L1704.8,436.8 L1706.5,439.0 L1708.1,441.3 L1709.3,443.0" stroke="#ff00ff" stroke-dasharray="48.08 56.92" stroke-dashoffset="0.47"/>
<path d="M1708.5,441.8 L1710.1,444.1 L1711.8,446.3 L1713.4,448.6 L1715.0,450.8 L1716.6,453.1 L1718.2,455.3 L1719.8,457.6 L1721.4,459.8 L1723.0,462.1 L1724.6,464.4 L1726.2,466.6 L1727.8,468.9 L1729.4,471.2 L1731.0,473.4 L1732.6,475.7 L1734.2,478.0 L1735.8,480.3 L1737.3,482.6 L1738.9,484.8 L1740.5,487.1 L1742.0,489.4 L1743.6,491.7 L1745.2,494.0 L1746.7,496.3 L1748.3,498.6 L1749.8,500.9 L1751.4,503.2 L1752.9,505.5 L1754.4,507.8 L1756.0,510.1 L1757.5,512.4 L1759.0,514.8 L1760.6,517.1 L1762.1,519.4 L1763.6,521.7 L1765.1,524.0 L1766.7,526.3 L1768.2,528.7 L1769.7,531.0 L1771.2,533.3 L1772.7,535.7 L1774.2,538.0 L1775.7,540.3 L1777.2,542.7 L1778.7,545.0 L1780.2,547.3 L1781.7,549.7 L1783.1,552.0 L1784.6,554.4 L1786.1,556.7 L1787.6,559.1 L1789.1,561.4 L1790.5,563.8 L1792.0,566.1 L1793.5,568.5 L1794.9,570.8 L1796.4,573.2 L1797.8,575.5 L1799.3,577.9 L1800.7,580.3 L1802.2,582.6 L1803.6,585.0 L1805.1,587.3 L1806.5,589.7 L1807.9,592.1 L1809.4,594.5 L1810.8,596.8 L1812.2,599.2 L1813.7,601.6 L1815.1,603.9 L1816.5,606.3 L1817.9,608.7 L1819.3,611.1 L1820.8,613.5 L1822.2,615.8 L1823.6,618.2 L1825.0,620.6 L1826.4,623.0 L1827.8,625.4 L1829.2,627.8 L1830.6,630.2 L1832.0,632.5 L1833.3,634.9 L1834.7,637.3 L1836.1,639.7 L1837.5,642.1 L1838.9,644.5 L1840.3,646.9 L1841.6,649.3 L1843.0,651.7 L1844.4,654.1 L1845.7,656.5 L1847.1,658.9 L1848.5,661.3 L1849.8,663.7 L1851.2,666.1 L1852.5,668.5 L1853.9,670.9 L1855.2,673.3 L1856.6,675.7 L1857.9,678.1 L1859.2,680.5 L1860.6,682.9 L1861.9,685.3 L1863.3,687.7 L1864.6,690.1 L1865.9,692.6 L1867.2,695.0 L1868.6,697.4 L1869.9,699.8 L1871.2,702.2 L1872.5,704.6 L1873.8,707.0 L1875.2,709.4 L1876.5,711.8 L1877.8,714.3 L1879.1,716.7 L1880.4,719.1 L1881.7,721.5 L1883.0,723.9 L1884.3,726.3 L1885.6,728.7 L1886.9,731.2 L1888.1,733.6 L1889.4,736.0 L1889.8,736.6" stroke="#ff00ff" stroke-dasharray="48.08 56.92" stroke-dashoffset="31.48"/>
<path d="M269.7,1203.0 L272.9,1203.5 L276.1,1203.7 L279.2,1203.9 L282.2,1204.0 L285.2,1203.9 L288.1,1203.7 L290.9,1203.4 L293.7,1203.0 L296.5,1202.5 L299.1,1201.9 L301.8,1201.2 L304.4,1200.5 L306.9,1199.6 L309.4,1198.6 L311.8,1197.6 L314.2,1196.5 L316.6,1195.3 L318.9,1194.1 L321.2,1192.8 L323.5,1191.4 L325.7,1190.0 L327.9,1188.5 L330.1,1187.0 L332.2,1185.4 L334.4,1183.7 L336.5,1182.1 L338.6,1180.4 L340.7,1178.6 L342.7,1176.9 L344.8,1175.1 L346.9,1173.3 L348.9,1171.4 L351.0,1169.6 L353.0,1167.7 L355.1,1165.9 L357.1,1164.0 L359.2,1162.1 L361.3,1160.3 L363.4,1158.4 L365.4,1156.5 L367.5,1154.7 L369.6,1152.8 L371.7,1151.0 L373.8,1149.1 L375.9,1147.3 L378.1,1145.4 L380.2,1143.5 L382.3,1141.7 L384.4,1139.8 L386.5,1138.0 L388.7,1136.1 L390.8,1134.2 L392.9,1132.4 L395.0,1130.5 L397.1,1128.6 L399.2,1126.7 L401.4,1124.9 L403.5,1123.0 L405.6,1121.1 L407.7,1119.2 L409.7,1117.3 L411.8,1115.4 L413.9,1113.5 L416.0,1111.6 L418.0,1109.6 L420.1,1107.7 L422.1,1105.8 L424.2,1103.8 L426.2,1101.9 L428.2,1099.9 L430.2,1097.9 L432.2,1096.0 L434.1,1094.0 L436.1,1092.0 L438.0,1090.0 L439.9,1087.9 L441.9,1085.9 L443.8,1083.9 L445.6,1081.8 L447.5,1079.7 L449.3,1077.7 L451.2,1075.6 L453.0,1073.5 L454.7,1071.4 L456.5,1069.2 L458.2,1067.1 L460.0,1064.9 L461.7,1062.8 L463.4,1060.6 L465.0,1058.4 L466.7,1056.2 L468.3,1054.0 L469.9,1051.8 L471.5,1049.5 L473.1,1047.3 L474.7,1045.0 L476.2,1042.8 L477.8,1040.5 L479.3,1038.2 L480.8,1035.9 L482.2,1033.6 L483.7,1031.3 L485.1,1028.9 L486.6,1026.6 L488.0,1024.2 L489.4,1021.9 L490.8,1019.5 L492.1,1017.1 L493.5,1014.7 L494.8,1012.3 L496.1,1009.9 L497.4,1007.5 L498.7,1005.1 L500.0,1002.6 L501.3,1000.2 L502.5,997.8 L503.8,995.3 L505.0,992.8 L506.2,990.4 L507.4,987.9 L508.6,985.4 L509.7,982.9 L510.9,980.4 L512.0,977.9 L513.2,975.3 L513.4,974.7" stroke="#008080" stroke-dasharray="34.19 23.71 1.38 23.71" stroke-dashoffset="36.75"/>
<path d="M512.9,976.0 L514.0,973.5 L515.1,970.9 L516.2,968.4 L517.3,965.8 L518.3,963.3 L519.4,960.7 L520.5,958.2 L521.5,955.6 L522.5,953.0 L523.5,950.4 L524.5,947.9 L525.5,945.3 L526.5,942.7 L527.5,940.1 L528.5,937.5 L529.4,934.9 L530.4,932.2 L531.3,929.6 L532.2,927.0 L533.1,924.4 L534.0,921.7 L534.9,919.1 L535.8,916.5 L536.7,913.8 L537.6,911.2 L538.4,908.5 L539.3,905.9 L540.2,903.2 L541.0,900.5 L541.8,897.9 L542.7,895.2 L543.5,892.6 L544.3,889.9 L545.1,887.2 L545.9,884.5 L546.7,881.9 L547.5,879.2 L548.2,876.5 L549.0,873.8 L549.8,871.1 L550.5,868.5 L551.3,865.8 L552.1,863.1 L552.8,860.4 L553.5,857.7 L554.3,855.0 L555.0,852.3 L555.7,849.6 L556.5,847.0 L557.2,844.3 L557.9,841.6 L558.6,838.9 L559.3,836.2 L560.0,833.5 L560.7,830.8 L561.4,828.1 L562.0,825.4 L562.7,822.7 L563.4,820.0 L564.1,817.3 L564.7,814.6 L565.4,811.9 L566.1,809.2 L566.7,806.5 L567.4,803.8 L568.0,801.1 L568.6,798.4 L569.3,795.7 L569.9,793.0 L570.5,790.3 L571.2,787.6 L571.8,784.9 L572.4,782.2 L573.0,779.5 L573.6,776.8 L574.2,774.1 L574.8,771.4 L575.4,768.7 L576.0,765.9 L576.6,763.2 L577.2,760.5 L577.7,757.8 L578.3,755.1 L578.9,752.4 L579.5,749.7 L580.0,747.0 L580.6,744.3 L581.2,741.5 L581.7,738.8 L582.3,736.1 L582.8,733.4 L583.4,730.7 L583.9,728.0 L584.5,725.2 L585.0,722.5 L585.5,719.8 L586.1,717.1 L586.6,714.4 L587.1,711.7 L587.6,708.9 L588.2,706.2 L588.7,703.5 L589.2,700.8 L589.7,698.1 L590.2,695.3 L590.7,692.6 L591.2,689.9 L591.7,687.2 L592.2,684.4 L592.7,681.7 L593.2,679.0 L593.7,676.3 L594.2,673.6 L594.7,670.8 L595.2,668.1 L595.7,665.4 L596.1,662.6 L596.6,659.9 L597.1,657.2 L597.6,654.5 L598.0,651.7 L598.5,649.0 L599.0,646.3 L599.5,643.6 L599.9,640.8 L600.0,640.1" stroke="#008080" stroke-dasharray="34.19 23.71 1.38 23.71" stroke-dashoffset="54.08"/>
<path d="M599.8,641.5 L600.3,638.8 L600.7,636.1 L601.2,633.3 L601.7,630.6 L602.1,627.9 L602.6,625.1 L603.0,622.4 L603.5,619.7 L603.9,616.9 L604.4,614.2 L604.8,611.5 L605.3,608.8 L605.7,606.0 L606.2,603.3 L606.6,600.6 L607.1,597.8 L607.5,595.1 L608.0,592.4 L608.4,589.6 L608.8,586.9 L609.3,584.2 L609.7,581.4 L610.2,578.7 L610.6,576.0 L611.0,573.2 L611.5,570.5 L611.9,567.8 L612.4,565.0 L612.8,562.3 L613.2,559.6 L613.7,556.8 L614.1,554.1 L614.6,551.4 L615.0,548.6 L615.4,545.9 L615.9,543.2 L616.3,540.4 L616.7,537.7 L617.2,535.0 L617.6,532.2 L618.0,529.5 L618.5,526.8 L618.9,524.0 L619.4,521.3 L619.8,518.6 L620.2,515.8 L620.7,513.1 L621.1,510.4 L621.6,507.6 L622.0,504.9 L622.5,502.2 L622.9,499.4 L623.3,496.7 L623.8,494.0 L624.2,491.2 L624.7,488.5 L625.1,485.8 L625.6,483.0 L626.0,480.3 L626.5,477.6 L626.9,474.8 L627.4,472.1 L627.8,469.4 L628.3,466.6 L628.8,463.9 L629.2,461.2 L629.7,458.4 L630.1,455.7 L630.6,453.0 L631.1,450.2 L631.5,447.5 L632.0,444.8 L632.5,442.1 L633.0,439.3 L633.4,436.6 L633.9,433.9 L634.4,431.1 L634.9,428.4 L635.4,425.7 L635.8,422.9 L636.3,420.2 L636.8,417.5 L637.3,414.8 L637.8,412.0 L638.3,409.3 L638.8,406.6 L639.3,403.9 L639.8,401.1 L640.3,398.4 L640.8,395.7 L641.3,392.9 L641.9,390.2 L642.4,387.5 L642.9,384.8 L643.4,382.1 L644.0,379.3 L644.5,376.6 L645.0,373.9 L645.6,371.2 L646.1,368.4 L646.6,365.7 L647.2,363.0 L647.7,360.3 L648.3,357.6 L648.8,354.8 L649.4,352.1 L650.0,349.4 L650.5,346.7 L651.1,344.0 L651.7,341.2 L652.3,338.5 L652.8,335.8 L653.4,333.1 L654.0,330.4 L654.6,327.7 L655.2,324.9 L655.8,322.2 L656.4,319.5 L657.0,316.8 L657.6,314.1 L658.2,311.4 L658.9,308.7 L659.5,305.9 L660.1,303.2 L660.7,300.5 L661.2,298.5" stroke="#008080" stroke-dasharray="34.19 23.71 1.38 23.71" stroke-dashoffset="72.88"/>
<path d="M660.9,299.9 L661.5,297.1 L662.2,294.4 L662.8,291.7 L663.5,289.0 L664.1,286.3 L664.8,283.6 L665.5,280.9 L666.1,278.2 L666.8,275.5 L667.5,272.8 L668.2,270.1 L668.9,267.4 L669.6,264.7 L670.3,262.0 L671.0,259.3 L671.7,256.6 L672.4,253.9 L673.1,251.2 L673.9,248.5 L674.6,245.8 L675.3,243.1 L676.1,240.4 L676.8,237.7 L677.6,235.0 L678.3,232.3 L679.1,229.6 L679.9,226.9 L680.6,224.2 L681.4,221.5 L682.2,218.8 L683.0,216.2 L683.8,213.5 L684.6,210.8 L685.4,208.1 L686.3,205.4 L687.1,202.7 L687.9,200.1 L688.8,197.4 L689.6,194.7 L690.5,192.1 L691.4,189.4 L692.4,186.8 L693.3,184.2 L694.3,181.5 L695.3,178.9 L696.3,176.4 L697.3,173.8 L698.4,171.2 L699.5,168.7 L700.6,166.2 L701.8,163.7 L703.0,161.2 L704.2,158.8 L705.5,156.4 L706.8,154.0 L708.2,151.6 L709.6,149.2 L711.0,146.9 L712.5,144.6 L714.1,142.4 L715.7,140.1 L717.3,137.9 L719.0,135.8 L720.7,133.7 L722.5,131.6 L724.4,129.5 L726.3,127.5 L728.2,125.5 L730.2,123.6 L732.2,121.7 L734.3,119.8 L736.4,118.0 L738.5,116.2 L740.7,114.4 L742.9,112.7 L745.2,111.1 L747.4,109.5 L749.8,107.9 L752.1,106.3 L754.5,104.8 L756.9,103.4 L759.3,102.0 L761.8,100.6 L764.2,99.3 L766.7,98.1 L769.2,96.8 L771.8,95.7 L774.3,94.5 L776.9,93.5 L779.5,92.5 L782.1,91.5 L784.7,90.6 L787.3,89.7 L790.0,88.9 L792.6,88.1 L795.3,87.3 L797.9,86.6 L800.6,86.0 L803.3,85.4 L806.0,84.8 L808.7,84.2 L811.4,83.7 L814.2,83.3 L816.9,82.8 L819.6,82.4 L822.4,82.0 L825.1,81.7 L827.9,81.3 L830.6,81.0 L833.4,80.7 L836.2,80.5 L839.0,80.2 L841.7,80.0 L844.5,79.8 L847.3,79.6 L850.1,79.4 L852.9,79.2 L855.7,79.0 L858.5,78.9 L861.3,78.7 L864.1,78.6 L866.8,78.4 L869.6,78.3 L872.4,78.1 L875.2,78.0 L875.2,78.0" stroke="#008080" stroke-dasharray="34.19 23.71 1.38 23.71" stroke-dashoffset="10.28"/>
<path d="M873.8,78.1 L876.6,77.9 L879.4,77.8 L882.2,77.7 L885.0,77.6 L887.8,77.5 L890.6,77.4 L893.4,77.2 L896.2,77.1 L898.9,77.0 L901.7,76.9 L904.5,76.9 L907.3,76.8 L910.1,76.7 L912.9,76.6 L915.7,76.5 L918.5,76.5 L921.3,76.4 L924.1,76.3 L926.9,76.3 L929.6,76.2 L932.4,76.1 L935.2,76.1 L938.0,76.0 L940.8,76.0 L943.6,75.9 L946.4,75.9 L949.2,75.8 L951.9,75.8 L954.7,75.8 L957.5,75.7 L960.3,75.7 L963.1,75.7 L965.9,75.6 L968.7,75.6 L971.4,75.6 L974.2,75.6 L977.0,75.6 L979.8,75.5 L982.6,75.5 L985.4,75.5 L988.1,75.5 L990.9,75.5 L993.7,75.5 L996.5,75.5 L999.3,75.5 L1002.0,75.5 L1004.8,75.5 L1007.6,75.5 L1010.4,75.5 L1013.2,75.5 L1015.9,75.5 L1018.7,75.5 L1021.5,75.5 L1024.3,75.5 L1027.0,75.5 L1029.8,75.5 L1032.6,75.5 L1035.4,75.5 L1038.1,75.5 L1040.9,75.5 L1043.7,75.5 L1046.4,75.5 L1049.2,75.6 L1052.0,75.6 L1054.7,75.6 L1057.5,75.6 L1060.3,75.6 L1063.0,75.6 L1065.8,75.6 L1068.6,75.6 L1071.3,75.6 L1074.1,75.7 L1076.9,75.7 L1079.6,75.7 L1082.4,75.7 L1085.2,75.7 L1087.9,75.7 L1090.7,75.7 L1093.4,75.7 L1096.2,75.7 L1098.9,75.7 L1101.7,75.7 L1104.4,75.7 L1107.2,75.7 L1110.0,75.7 L1112.7,75.7 L1115.5,75.7 L1118.2,75.7 L1121.0,75.7 L1123.7,75.7 L1126.4,75.7 L1129.2,75.7 L1131.9,75.7 L1134.7,75.7 L1137.4,75.7 L1140.2,75.7 L1142.9,75.7 L1145.7,75.7 L1148.4,75.6 L1151.1,75.6 L1153.9,75.6 L1156.6,75.6 L1159.4,75.6 L1162.1,75.6 L1164.9,75.5 L1167.6,75.5 L1170.4,75.5 L1173.1,75.5 L1175.8,75.4 L1178.6,75.4 L1181.3,75.4 L1184.1,75.4 L1186.8,75.3 L1189.6,75.3 L1192.3,75.3 L1195.1,75.3 L1197.8,75.2 L1200.6,75.2 L1203.4,75.2 L1206.1,75.1 L1208.9,75.1 L1211.6,75.1 L1214.4,75.1 L1217.2,75.0 L1219.9,75.0 L1222.7,75.0 L1222.7,75.0" stroke="#008080" stroke-dasharray="34.19 23.71 1.38 23.71" stroke-dashoffset="18.23"/>
<path d="M1221.3,75.0 L1224.1,74.9 L1226.9,74.9 L1229.6,74.9 L1232.4,74.8 L1235.2,74.8 L1238.0,74.8 L1240.8,74.7 L1243.5,74.7 L1246.3,74.7 L1249.1,74.6 L1251.9,74.6 L1254.7,74.6 L1257.5,74.5 L1260.3,74.5 L1263.1,74.5 L1265.9,74.4 L1268.8,74.4 L1271.6,74.4 L1274.4,74.3 L1277.2,74.3 L1280.0,74.3 L1282.9,74.2 L1285.7,74.2 L1288.6,74.2 L1291.4,74.2 L1294.2,74.1 L1297.1,74.1 L1300.0,74.1 L1302.8,74.0 L1305.7,74.0 L1308.5,74.0 L1311.4,74.0 L1314.3,74.0 L1317.1,74.0 L1320.0,74.0 L1322.9,74.0 L1325.7,74.1 L1328.6,74.1 L1331.5,74.2 L1334.3,74.3 L1337.1,74.4 L1340.0,74.6 L1342.8,74.7 L1345.6,74.9 L1348.5,75.1 L1351.3,75.4 L1354.1,75.6 L1356.8,75.9 L1359.6,76.3 L1362.4,76.7 L1365.1,77.1 L1367.8,77.5 L1370.6,78.0 L1373.3,78.6 L1375.9,79.1 L1378.6,79.8 L1381.3,80.4 L1383.9,81.1 L1386.5,81.9 L1389.1,82.7 L1391.7,83.5 L1394.3,84.4 L1396.8,85.3 L1399.3,86.2 L1401.9,87.2 L1404.4,88.2 L1406.9,89.3 L1409.3,90.3 L1411.8,91.5 L1414.3,92.6 L1416.7,93.8 L1419.1,95.0 L1421.5,96.3 L1423.9,97.6 L1426.3,98.9 L1428.6,100.2 L1431.0,101.6 L1433.3,103.0 L1435.6,104.5 L1437.9,105.9 L1440.2,107.4 L1442.5,108.9 L1444.8,110.5 L1447.0,112.0 L1449.3,113.6 L1451.5,115.3 L1453.7,116.9 L1456.0,118.6 L1458.1,120.2 L1460.3,121.9 L1462.5,123.7 L1464.7,125.4 L1466.8,127.2 L1469.0,129.0 L1471.1,130.8 L1473.2,132.6 L1475.3,134.4 L1477.4,136.3 L1479.5,138.1 L1481.6,140.0 L1483.6,141.9 L1485.7,143.8 L1487.7,145.7 L1489.8,147.6 L1491.8,149.6 L1493.8,151.5 L1495.8,153.5 L1497.8,155.5 L1499.8,157.5 L1501.8,159.4 L1503.7,161.4 L1505.7,163.5 L1507.7,165.5 L1509.6,167.5 L1511.5,169.5 L1513.5,171.5 L1515.4,173.6 L1517.3,175.6 L1519.2,177.6 L1521.1,179.7 L1523.0,181.7 L1524.9,183.8 L1526.8,185.9 L1528.6,187.9 L1530.5,190.0 L1530.5,190.0" stroke="#008080" stroke-dasharray="34.19 23.71 1.38 23.71" stroke-dashoffset="33.23"/>
<path d="M1529.6,189.0 L1531.4,191.1 L1533.3,193.1 L1535.1,195.2 L1536.9,197.3 L1538.8,199.4 L1540.6,201.5 L1542.4,203.6 L1544.2,205.8 L1546.0,207.9 L1547.8,210.0 L1549.6,212.1 L1551.3,214.3 L1553.1,216.4 L1554.9,218.5 L1556.6,220.7 L1558.4,222.8 L1560.1,225.0 L1561.9,227.2 L1563.6,229.3 L1565.3,231.5 L1567.0,233.7 L1568.8,235.8 L1570.5,238.0 L1572.2,240.2 L1573.8,242.4 L1575.5,244.6 L1577.2,246.8 L1578.9,249.0 L1580.6,251.2 L1582.2,253.4 L1583.9,255.6 L1585.5,257.9 L1587.2,260.1 L1588.8,262.3 L1590.5,264.5 L1592.1,266.8 L1593.7,269.0 L1595.3,271.3 L1596.9,273.5 L1598.6,275.8 L1600.2,278.0 L1601.8,280.3 L1603.4,282.5 L1604.9,284.8 L1606.5,287.1 L1608.1,289.3 L1609.7,291.6 L1611.3,293.9 L1612.8,296.2 L1614.4,298.4 L1615.9,300.7 L1617.5,303.0 L1619.0,305.3 L1620.6,307.6 L1622.1,309.9 L1623.7,312.2 L1625.2,314.5 L1626.7,316.8 L1628.2,319.1 L1629.7,321.4 L1631.3,323.7 L1632.8,326.1 L1634.3,328.4 L1635.8,330.7 L1637.3,333.0 L1638.8,335.4 L1640.3,337.7 L1641.8,340.0 L1643.2,342.3 L1644.7,344.7 L1646.2,347.0 L1647.7,349.4 L1649.2,351.7 L1650.6,354.1 L1652.1,356.4 L1653.6,358.7 L1655.0,361.1 L1656.5,363.5 L1657.9,365.8 L1659.4,368.2 L1660.8,370.5 L1662.3,372.9 L1663.7,375.2 L1665.2,377.6 L1666.6,380.0 L1668.0,382.3 L1669.5,384.7 L1670.9,387.1 L1672.3,389.5 L1673.8,391.8 L1675.2,394.2 L1676.6,396.6 L1678.0,399.0 L1679.4,401.4 L1680.8,403.7 L1682.3,406.1 L1683.7,408.5 L1685.1,410.9 L1686.5,413.3 L1687.9,415.7 L1689.3,418.1 L1690.7,420.5 L1692.0,422.9 L1693.4,425.3 L1694.8,427.7 L1696.2,430.1 L1697.6,432.5 L1699.0,434.9 L1700.3,437.3 L1701.7,439.7 L1703.1,442.1 L1704.4,444.5 L1705.8,446.9 L1707.2,449.4 L1708.5,451.8 L1709.9,454.2 L1711.2,456.6 L1712.6,459.0 L1713.9,461.4 L1715.3,463.9 L1716.6,466.3 L1718.0,468.7 L1719.3,471.2 L1720.7,473.6 L1722.0,476.0 L1722.7,477.2" stroke="#008080" stroke-dasharray="34.19 23.71 1.38 23.71" stroke-dashoffset="48.40"/>
<path d="M1722.0,476.0 L1723.3,478.4 L1724.7,480.9 L1726.0,483.3 L1727.3,485.7 L1728.6,488.2 L1730.0,490.6 L1731.3,493.1 L1732.6,495.5 L1733.9,498.0 L1735.2,500.4 L1736.5,502.8 L1737.8,505.3 L1739.1,507.7 L1740.4,510.2 L1741.7,512.6 L1743.0,515.1 L1744.3,517.5 L1745.6,520.0 L1746.9,522.5 L1748.2,524.9 L1749.5,527.4 L1750.8,529.8 L1752.1,532.3 L1753.3,534.8 L1754.6,537.2 L1755.9,539.7 L1757.2,542.1 L1758.4,544.6 L1759.7,547.1 L1761.0,549.5 L1762.2,552.0 L1763.5,554.5 L1764.7,557.0 L1766.0,559.4 L1767.3,561.9 L1768.5,564.4 L1769.8,566.9 L1771.0,569.3 L1772.3,571.8 L1773.5,574.3 L1774.7,576.8 L1776.0,579.3 L1777.2,581.7 L1778.5,584.2 L1779.7,586.7 L1780.9,589.2 L1782.1,591.7 L1783.4,594.2 L1784.6,596.6 L1785.8,599.1 L1787.0,601.6 L1788.3,604.1 L1789.5,606.6 L1790.7,609.1 L1791.9,611.6 L1793.1,614.1 L1794.3,616.6 L1795.6,619.1 L1796.8,621.6 L1798.0,624.1 L1799.2,626.5 L1800.4,629.0 L1801.6,631.5 L1802.8,634.0 L1804.0,636.5 L1805.2,639.0 L1806.4,641.5 L1807.6,644.0 L1808.8,646.5 L1810.0,649.0 L1811.2,651.5 L1812.4,654.0 L1813.6,656.5 L1814.8,659.0 L1816.0,661.5 L1817.2,664.0 L1818.4,666.5 L1819.6,669.0 L1820.8,671.5 L1822.0,674.0 L1823.2,676.5 L1824.4,679.0 L1825.6,681.5 L1826.8,684.0 L1828.1,686.5 L1829.3,689.0 L1830.5,691.5 L1831.7,694.0 L1832.9,696.5 L1834.1,699.0 L1835.3,701.5 L1836.5,704.0 L1837.7,706.5 L1838.9,709.0 L1840.1,711.5 L1841.3,714.0 L1842.6,716.5 L1843.8,719.0 L1845.0,721.5 L1846.2,724.0 L1847.4,726.5 L1848.7,729.0 L1849.9,731.5 L1851.1,734.0 L1852.3,736.5 L1853.5,739.0 L1854.7,741.5 L1855.9,744.0 L1857.0,746.5 L1858.1,749.0 L1859.2,751.5 L1860.3,754.1 L1861.3,756.6 L1862.3,759.2 L1863.2,761.7 L1864.1,764.3 L1864.9,766.9 L1865.6,769.5 L1866.3,772.2 L1867.0,774.8 L1867.5,777.5 L1868.0,780.2 L1868.4,782.9 L1868.7,785.6 L1868.9,788.4 L1869.0,789.7" stroke="#008080" stroke-dasharray="34.19 23.71 1.38 23.71" stroke-dashoffset="64.55"/>
<path d="M269.9,1203.4 L272.9,1203.4 L275.9,1203.5 L278.9,1203.7 L281.9,1203.8 L284.9,1203.9 L287.9,1204.1 L291.0,1204.2 L294.0,1204.3 L297.0,1204.4 L300.0,1204.6 L303.0,1204.6 L306.1,1204.7 L309.1,1204.7 L312.1,1204.8 L315.1,1204.7 L318.0,1204.7 L321.0,1204.5 L323.9,1204.4 L326.9,1204.2 L329.8,1203.9 L332.7,1203.6 L335.6,1203.2 L338.4,1202.7 L341.2,1202.2 L344.0,1201.6 L346.8,1200.9 L349.5,1200.1 L352.3,1199.3 L355.0,1198.4 L357.6,1197.4 L360.3,1196.4 L363.0,1195.3 L365.6,1194.1 L368.2,1192.9 L370.8,1191.7 L373.5,1190.5 L376.1,1189.2 L378.7,1187.8 L381.3,1186.5 L384.0,1185.1 L386.6,1183.7 L389.2,1182.3 L391.9,1180.9 L394.5,1179.4 L397.1,1177.9 L399.7,1176.4 L402.4,1174.9 L405.0,1173.4 L407.6,1171.8 L410.2,1170.2 L412.8,1168.6 L415.4,1167.0 L418.0,1165.3 L420.5,1163.6 L423.1,1161.9 L425.6,1160.2 L428.1,1158.5 L430.6,1156.7 L433.1,1154.9 L435.5,1153.1 L438.0,1151.2 L440.4,1149.4 L442.8,1147.5 L445.2,1145.6 L447.5,1143.7 L449.8,1141.7 L452.1,1139.7 L454.3,1137.7 L456.6,1135.7 L458.7,1133.7 L460.9,1131.6 L463.0,1129.5 L465.1,1127.4 L467.2,1125.2 L469.2,1123.1 L471.1,1120.9 L473.1,1118.6 L475.0,1116.4 L476.8,1114.1 L478.6,1111.9 L480.4,1109.5 L482.2,1107.2 L483.9,1104.9 L485.5,1102.5 L487.2,1100.1 L488.8,1097.7 L490.4,1095.2 L491.9,1092.8 L493.4,1090.3 L494.9,1087.8 L496.3,1085.3 L497.7,1082.8 L499.1,1080.2 L500.5,1077.7 L501.8,1075.1 L503.1,1072.5 L504.4,1069.9 L505.6,1067.2 L506.8,1064.6 L508.0,1061.9 L509.2,1059.3 L510.3,1056.6 L511.5,1053.9 L512.5,1051.1 L513.6,1048.4 L514.7,1045.7 L515.7,1042.9 L516.7,1040.1 L517.7,1037.4 L518.6,1034.6 L519.6,1031.8 L520.5,1029.0 L520.5,1029.0" stroke="#0000ff" stroke-dasharray="55.74 33.83 9.09 33.83" stroke-dashoffset="71.75"/>
<path d="M520.0,1030.4 L520.9,1027.5 L521.8,1024.7 L522.7,1021.9 L523.5,1019.0 L524.4,1016.2 L525.2,1013.3 L526.0,1010.4 L526.8,1007.5 L527.6,1004.7 L528.3,1001.8 L529.1,998.9 L529.8,996.0 L530.5,993.0 L531.2,990.1 L531.9,987.2 L532.6,984.3 L533.3,981.3 L533.9,978.4 L534.6,975.5 L535.2,972.5 L535.9,969.6 L536.5,966.6 L537.1,963.7 L537.7,960.7 L538.3,957.8 L538.9,954.8 L539.5,951.8 L540.1,948.9 L540.7,945.9 L541.3,943.0 L541.9,940.0 L542.4,937.1 L543.0,934.1 L543.6,931.2 L544.1,928.2 L544.7,925.3 L545.3,922.3 L545.8,919.4 L546.4,916.4 L546.9,913.5 L547.5,910.5 L548.0,907.6 L548.6,904.6 L549.1,901.7 L549.7,898.8 L550.2,895.8 L550.7,892.9 L551.3,889.9 L551.8,887.0 L552.3,884.1 L552.9,881.1 L553.4,878.2 L553.9,875.3 L554.4,872.3 L555.0,869.4 L555.5,866.5 L556.0,863.5 L556.5,860.6 L557.0,857.7 L557.5,854.7 L558.0,851.8 L558.5,848.9 L559.0,846.0 L559.5,843.0 L560.0,840.1 L560.5,837.2 L561.0,834.3 L561.5,831.3 L562.0,828.4 L562.5,825.5 L563.0,822.6 L563.5,819.6 L564.0,816.7 L564.5,813.8 L565.0,810.9 L565.5,808.0 L565.9,805.0 L566.4,802.1 L566.9,799.2 L567.4,796.3 L567.9,793.4 L568.3,790.4 L568.8,787.5 L569.3,784.6 L569.8,781.7 L570.3,778.8 L570.7,775.8 L571.2,772.9 L571.7,770.0 L572.1,767.1 L572.6,764.2 L573.1,761.2 L573.6,758.3 L574.0,755.4 L574.5,752.5 L575.0,749.6 L575.4,746.7 L575.9,743.7 L576.4,740.8 L576.8,737.9 L577.3,735.0 L577.8,732.1 L578.2,729.2 L578.7,726.2 L579.2,723.3 L579.6,720.4 L580.1,717.5 L580.6,714.6 L581.0,711.6 L581.5,708.7 L582.0,705.8 L582.1,705.1" stroke="#0000ff" stroke-dasharray="55.74 33.83 9.09 33.83" stroke-dashoffset="4.88"/>
<path d="M581.8,706.5 L582.3,703.6 L582.8,700.7 L583.2,697.8 L583.7,694.8 L584.2,691.9 L584.6,689.0 L585.1,686.1 L585.6,683.2 L586.0,680.2 L586.5,677.3 L587.0,674.4 L587.5,671.5 L587.9,668.5 L588.4,665.6 L588.9,662.7 L589.3,659.8 L589.8,656.8 L590.3,653.9 L590.8,651.0 L591.2,648.1 L591.7,645.1 L592.2,642.2 L592.7,639.3 L593.1,636.3 L593.6,633.4 L594.1,630.5 L594.6,627.5 L595.1,624.6 L595.5,621.7 L596.0,618.7 L596.5,615.8 L597.0,612.9 L597.5,609.9 L598.0,607.0 L598.5,604.0 L599.0,601.1 L599.4,598.2 L599.9,595.2 L600.4,592.3 L600.9,589.4 L601.4,586.4 L601.9,583.5 L602.4,580.5 L602.9,577.6 L603.4,574.7 L603.9,571.7 L604.4,568.8 L604.9,565.8 L605.4,562.9 L605.9,560.0 L606.4,557.0 L606.9,554.1 L607.4,551.1 L607.9,548.2 L608.4,545.3 L608.9,542.3 L609.4,539.4 L609.9,536.4 L610.5,533.5 L611.0,530.5 L611.5,527.6 L612.0,524.7 L612.5,521.7 L613.0,518.8 L613.5,515.8 L614.0,512.9 L614.6,510.0 L615.1,507.0 L615.6,504.1 L616.1,501.1 L616.6,498.2 L617.1,495.3 L617.7,492.3 L618.2,489.4 L618.7,486.5 L619.2,483.5 L619.8,480.6 L620.3,477.7 L620.8,474.7 L621.3,471.8 L621.9,468.8 L622.4,465.9 L622.9,463.0 L623.4,460.1 L624.0,457.1 L624.5,454.2 L625.0,451.3 L625.6,448.3 L626.1,445.4 L626.6,442.5 L627.2,439.5 L627.7,436.6 L628.2,433.7 L628.8,430.8 L629.3,427.8 L629.8,424.9 L630.4,422.0 L630.9,419.1 L631.4,416.2 L632.0,413.2 L632.5,410.3 L633.1,407.4 L633.6,404.5 L634.1,401.6 L634.7,398.6 L635.2,395.7 L635.8,392.8 L636.3,389.9 L636.9,387.0 L637.4,384.1 L638.0,381.2 L638.2,379.7" stroke="#0000ff" stroke-dasharray="55.74 33.83 9.09 33.83" stroke-dashoffset="70.37"/>
<path d="M638.0,381.2 L638.5,378.3 L639.1,375.4 L639.6,372.5 L640.2,369.6 L640.7,366.7 L641.3,363.8 L641.8,360.9 L642.4,358.0 L643.0,355.1 L643.5,352.2 L644.1,349.3 L644.7,346.4 L645.2,343.5 L645.8,340.6 L646.4,337.7 L647.0,334.8 L647.6,331.9 L648.2,329.0 L648.8,326.1 L649.4,323.2 L650.0,320.4 L650.6,317.5 L651.3,314.6 L651.9,311.7 L652.6,308.8 L653.2,305.9 L653.9,303.1 L654.5,300.2 L655.2,297.3 L655.9,294.4 L656.5,291.5 L657.2,288.7 L657.9,285.8 L658.7,282.9 L659.4,280.1 L660.1,277.2 L660.8,274.3 L661.6,271.4 L662.3,268.6 L663.1,265.7 L663.9,262.8 L664.7,260.0 L665.5,257.1 L666.3,254.2 L667.1,251.4 L667.9,248.5 L668.8,245.6 L669.6,242.8 L670.5,239.9 L671.4,237.1 L672.3,234.2 L673.2,231.3 L674.1,228.5 L675.0,225.6 L676.0,222.8 L676.9,219.9 L677.9,217.1 L678.9,214.3 L679.9,211.4 L680.9,208.6 L682.0,205.8 L683.0,203.0 L684.1,200.1 L685.2,197.3 L686.3,194.6 L687.4,191.8 L688.6,189.0 L689.8,186.2 L691.0,183.5 L692.2,180.7 L693.4,178.0 L694.7,175.3 L696.0,172.6 L697.3,169.9 L698.6,167.2 L700.0,164.5 L701.3,161.9 L702.7,159.2 L704.2,156.6 L705.6,154.0 L707.1,151.4 L708.6,148.9 L710.2,146.3 L711.7,143.8 L713.3,141.3 L715.0,138.8 L716.6,136.3 L718.3,133.8 L720.0,131.4 L721.8,129.0 L723.6,126.6 L725.4,124.2 L727.2,121.9 L729.1,119.6 L731.0,117.3 L732.9,115.0 L734.9,112.7 L736.9,110.5 L739.0,108.3 L741.1,106.2 L743.2,104.1 L745.3,102.0 L747.5,100.0 L749.7,98.0 L752.0,96.1 L754.3,94.2 L756.7,92.5 L759.0,90.7 L761.4,89.1 L763.9,87.6 L766.4,86.1 L767.6,85.4" stroke="#0000ff" stroke-dasharray="55.74 33.83 9.09 33.83" stroke-dashoffset="9.56"/>
<path d="M766.4,86.1 L768.9,84.7 L771.5,83.4 L774.1,82.2 L776.7,81.1 L779.4,80.1 L782.2,79.2 L784.9,78.5 L787.7,77.8 L790.6,77.2 L793.4,76.7 L796.3,76.3 L799.2,76.0 L802.2,75.7 L805.2,75.5 L808.2,75.4 L811.2,75.3 L814.2,75.3 L817.3,75.3 L820.3,75.4 L823.4,75.5 L826.5,75.6 L829.6,75.8 L832.7,76.0 L835.8,76.2 L838.9,76.4 L842.0,76.6 L845.1,76.8 L848.2,77.0 L851.3,77.2 L854.4,77.4 L857.5,77.5 L860.6,77.7 L863.6,77.8 L866.7,77.9 L869.7,78.0 L872.8,78.1 L875.8,78.2 L878.8,78.3 L881.9,78.4 L884.9,78.4 L887.9,78.5 L890.9,78.5 L893.9,78.5 L896.9,78.5 L899.9,78.5 L902.9,78.5 L905.9,78.5 L908.9,78.5 L911.8,78.5 L914.8,78.5 L917.8,78.4 L920.7,78.4 L923.7,78.3 L926.7,78.3 L929.6,78.2 L932.6,78.2 L935.5,78.1 L938.5,78.1 L941.4,78.0 L944.3,77.9 L947.3,77.9 L950.2,77.8 L953.2,77.7 L956.1,77.7 L959.0,77.6 L962.0,77.5 L964.9,77.4 L967.8,77.4 L970.8,77.3 L973.7,77.3 L976.6,77.2 L979.6,77.1 L982.5,77.1 L985.4,77.0 L988.4,77.0 L991.3,76.9 L994.2,76.9 L997.2,76.9 L1000.1,76.9 L1003.1,76.8 L1006.0,76.8 L1008.9,76.8 L1011.9,76.8 L1014.8,76.8 L1017.8,76.8 L1020.7,76.9 L1023.7,76.9 L1026.6,76.9 L1029.6,76.9 L1032.5,77.0 L1035.5,77.0 L1038.4,77.1 L1041.4,77.1 L1044.3,77.2 L1047.3,77.3 L1050.3,77.3 L1053.2,77.4 L1056.2,77.5 L1059.1,77.5 L1062.1,77.6 L1065.1,77.7 L1068.0,77.8 L1071.0,77.9 L1074.0,78.0 L1076.9,78.1 L1079.9,78.2 L1082.9,78.3 L1085.9,78.4 L1088.8,78.5 L1091.8,78.6 L1094.8,78.7 L1096.3,78.7" stroke="#0000ff" stroke-dasharray="55.74 33.83 9.09 33.83" stroke-dashoffset="69.28"/>
<path d="M1094.8,78.7 L1097.7,78.8 L1100.7,78.9 L1103.7,79.0 L1106.7,79.1 L1109.6,79.3 L1112.6,79.4 L1115.6,79.5 L1118.6,79.6 L1121.5,79.7 L1124.5,79.8 L1127.5,80.0 L1130.5,80.1 L1133.5,80.2 L1136.4,80.3 L1139.4,80.4 L1142.4,80.6 L1145.4,80.7 L1148.3,80.8 L1151.3,80.9 L1154.3,81.0 L1157.3,81.1 L1160.3,81.2 L1163.2,81.4 L1166.2,81.5 L1169.2,81.6 L1172.2,81.7 L1175.2,81.8 L1178.1,81.9 L1181.1,82.0 L1184.1,82.1 L1187.1,82.2 L1190.1,82.2 L1193.0,82.3 L1196.0,82.4 L1199.0,82.5 L1202.0,82.6 L1204.9,82.6 L1207.9,82.7 L1210.9,82.8 L1213.9,82.8 L1216.8,82.9 L1219.8,82.9 L1222.8,83.0 L1225.8,83.0 L1228.7,83.1 L1231.7,83.1 L1234.7,83.1 L1237.6,83.1 L1240.6,83.1 L1243.6,83.2 L1246.5,83.2 L1249.5,83.2 L1252.5,83.1 L1255.4,83.1 L1258.4,83.1 L1261.4,83.1 L1264.3,83.0 L1267.3,83.0 L1270.2,83.0 L1273.2,82.9 L1276.2,82.9 L1279.1,82.8 L1282.1,82.7 L1285.0,82.7 L1288.0,82.6 L1291.0,82.5 L1293.9,82.5 L1296.9,82.4 L1299.8,82.3 L1302.8,82.2 L1305.8,82.1 L1308.7,82.1 L1311.7,82.0 L1314.6,81.9 L1317.6,81.8 L1320.6,81.7 L1323.5,81.6 L1326.5,81.5 L1329.5,81.4 L1332.4,81.4 L1335.4,81.3 L1338.4,81.2 L1341.3,81.1 L1344.3,81.0 L1347.3,80.9 L1350.3,80.9 L1353.3,80.8 L1356.2,80.7 L1359.2,80.6 L1362.2,80.6 L1365.2,80.5 L1368.2,80.4 L1371.2,80.4 L1374.2,80.3 L1377.1,80.3 L1380.1,80.2 L1383.1,80.2 L1386.1,80.2 L1389.2,80.1 L1392.2,80.1 L1395.2,80.1 L1398.2,80.1 L1401.2,80.1 L1404.2,80.1 L1407.2,80.1 L1410.3,80.2 L1413.3,80.2 L1416.3,80.3 L1419.3,80.4 L1422.3,80.5 L1425.3,80.7 L1426.8,80.8" stroke="#0000ff" stroke-dasharray="55.74 33.83 9.09 33.83" stroke-dashoffset="2.55"/>
<path d="M1425.3,80.7 L1428.3,80.9 L1431.2,81.2 L1434.2,81.5 L1437.1,81.9 L1440.0,82.4 L1442.9,82.9 L1445.7,83.5 L1448.6,84.2 L1451.4,84.9 L1454.1,85.8 L1456.9,86.7 L1459.6,87.8 L1462.2,88.9 L1464.9,90.1 L1467.5,91.5 L1470.0,92.8 L1472.6,94.3 L1475.1,95.8 L1477.6,97.4 L1480.0,99.1 L1482.5,100.8 L1484.9,102.5 L1487.2,104.4 L1489.6,106.2 L1491.9,108.1 L1494.2,110.1 L1496.5,112.0 L1498.8,114.0 L1501.1,116.0 L1503.3,118.1 L1505.5,120.1 L1507.7,122.2 L1509.9,124.3 L1512.1,126.4 L1514.2,128.5 L1516.4,130.6 L1518.5,132.8 L1520.6,134.9 L1522.6,137.1 L1524.7,139.3 L1526.7,141.5 L1528.8,143.7 L1530.8,145.9 L1532.7,148.1 L1534.7,150.4 L1536.6,152.7 L1538.6,154.9 L1540.5,157.2 L1542.3,159.5 L1544.2,161.9 L1546.0,164.2 L1547.8,166.6 L1549.6,168.9 L1551.4,171.3 L1553.2,173.7 L1554.9,176.1 L1556.6,178.5 L1558.3,181.0 L1559.9,183.4 L1561.6,185.9 L1563.2,188.3 L1564.9,190.8 L1566.5,193.3 L1568.0,195.8 L1569.6,198.3 L1571.2,200.8 L1572.8,203.3 L1574.3,205.9 L1575.8,208.4 L1577.4,210.9 L1578.9,213.5 L1580.4,216.0 L1582.0,218.6 L1583.5,221.1 L1585.0,223.7 L1586.5,226.2 L1588.0,228.8 L1589.5,231.4 L1591.0,233.9 L1592.4,236.5 L1593.9,239.1 L1595.4,241.7 L1596.9,244.3 L1598.3,246.8 L1599.8,249.4 L1601.2,252.0 L1602.7,254.6 L1604.1,257.2 L1605.6,259.8 L1607.0,262.5 L1608.4,265.1 L1609.8,267.7 L1611.2,270.3 L1612.6,272.9 L1614.0,275.6 L1615.4,278.2 L1616.8,280.8 L1618.2,283.5 L1619.6,286.1 L1620.9,288.7 L1622.3,291.4 L1623.7,294.0 L1625.0,296.7 L1626.4,299.3 L1627.7,302.0 L1629.0,304.6 L1630.3,307.3 L1631.7,310.0 L1633.0,312.6 L1634.3,315.3 L1635.6,318.0 L1636.2,319.3" stroke="#0000ff" stroke-dasharray="55.74 33.83 9.09 33.83" stroke-dashoffset="65.10"/>
<path d="M1635.6,318.0 L1636.9,320.6 L1638.2,323.3 L1639.5,326.0 L1640.8,328.7 L1642.0,331.4 L1643.3,334.0 L1644.6,336.7 L1645.8,339.4 L1647.1,342.1 L1648.4,344.8 L1649.6,347.5 L1650.8,350.2 L1652.1,352.9 L1653.3,355.6 L1654.5,358.3 L1655.8,361.0 L1657.0,363.7 L1658.2,366.4 L1659.4,369.1 L1660.6,371.8 L1661.8,374.6 L1663.0,377.3 L1664.2,380.0 L1665.4,382.7 L1666.6,385.4 L1667.8,388.2 L1669.0,390.9 L1670.2,393.6 L1671.3,396.3 L1672.5,399.1 L1673.7,401.8 L1674.8,404.5 L1676.0,407.3 L1677.1,410.0 L1678.3,412.8 L1679.5,415.5 L1680.6,418.2 L1681.7,421.0 L1682.9,423.7 L1684.0,426.5 L1685.2,429.2 L1686.3,432.0 L1687.4,434.7 L1688.6,437.4 L1689.7,440.2 L1690.8,443.0 L1691.9,445.7 L1693.1,448.5 L1694.2,451.2 L1695.3,454.0 L1696.4,456.7 L1697.5,459.5 L1698.6,462.2 L1699.7,465.0 L1700.8,467.8 L1701.9,470.5 L1703.0,473.3 L1704.1,476.0 L1705.2,478.8 L1706.3,481.6 L1707.4,484.3 L1708.5,487.1 L1709.6,489.9 L1710.7,492.6 L1711.8,495.4 L1712.9,498.2 L1714.0,500.9 L1715.1,503.7 L1716.2,506.5 L1717.2,509.2 L1718.3,512.0 L1719.4,514.8 L1720.5,517.5 L1721.6,520.3 L1722.7,523.1 L1723.7,525.8 L1724.8,528.6 L1725.9,531.4 L1727.0,534.2 L1728.1,536.9 L1729.2,539.7 L1730.2,542.5 L1731.3,545.2 L1732.4,548.0 L1733.5,550.8 L1734.6,553.6 L1735.7,556.3 L1736.7,559.1 L1737.8,561.9 L1738.9,564.6 L1740.0,567.4 L1741.1,570.2 L1742.2,572.9 L1743.3,575.7 L1744.3,578.5 L1745.4,581.2 L1746.5,584.0 L1747.6,586.8 L1748.7,589.5 L1749.8,592.3 L1750.9,595.1 L1752.0,597.8 L1753.1,600.6 L1754.2,603.4 L1755.3,606.1 L1756.4,608.9 L1757.5,611.6 L1758.6,614.4 L1759.7,617.2 L1760.8,619.9 L1761.9,622.7 L1762.8,624.7" stroke="#0000ff" stroke-dasharray="55.74 33.83 9.09 33.83" stroke-dashoffset="131.22"/>
<path d="M1762.2,623.4 L1763.3,626.1 L1764.5,628.9 L1765.6,631.6 L1766.7,634.4 L1767.8,637.1 L1768.9,639.9 L1770.1,642.6 L1771.2,645.4 L1772.3,648.1 L1773.5,650.9 L1774.6,653.6 L1775.8,656.4 L1776.9,659.1 L1778.0,661.9 L1779.2,664.6 L1780.3,667.3 L1781.5,670.1 L1782.6,672.8 L1783.8,675.6 L1785.0,678.3 L1786.1,681.0 L1787.3,683.8 L1788.5,686.5 L1789.6,689.2 L1790.8,692.0 L1792.0,694.7 L1793.1,697.4 L1794.3,700.2 L1795.5,702.9 L1796.7,705.6 L1797.8,708.3 L1799.0,711.1 L1800.2,713.8 L1801.4,716.5 L1802.5,719.3 L1803.7,722.0 L1804.9,724.7 L1806.1,727.4 L1807.3,730.2 L1808.5,732.9 L1809.6,735.6 L1810.8,738.3 L1812.0,741.1 L1813.2,743.8 L1814.4,746.5 L1815.6,749.2 L1816.8,752.0 L1817.9,754.7 L1819.1,757.4 L1820.3,760.1 L1821.5,762.9 L1822.7,765.6 L1823.9,768.3 L1825.1,771.0 L1826.3,773.8 L1827.4,776.5 L1828.6,779.2 L1829.8,781.9 L1831.0,784.7 L1832.2,787.4 L1833.3,790.1 L1834.5,792.8 L1835.7,795.6 L1836.9,798.3 L1838.1,801.0 L1839.2,803.8 L1840.4,806.5 L1841.6,809.2 L1842.8,811.9 L1843.9,814.7 L1845.1,817.4 L1846.3,820.1 L1847.4,822.9 L1848.6,825.6 L1849.8,828.3 L1850.9,831.1 L1852.1,833.8 L1853.2,836.6 L1854.4,839.3 L1855.5,842.0 L1856.7,844.8 L1857.8,847.5 L1859.0,850.3 L1860.1,853.0 L1861.2,855.7 L1862.4,858.5 L1863.5,861.2 L1864.7,864.0 L1865.8,866.7 L1866.9,869.5 L1868.0,872.2 L1869.1,875.0 L1870.3,877.7 L1871.4,880.5 L1872.5,883.3 L1873.6,886.0 L1874.7,888.8 L1875.8,891.5 L1876.9,894.3 L1878.0,897.1 L1879.1,899.8 L1880.2,902.6 L1881.2,905.4 L1882.3,908.1 L1883.4,910.9 L1884.5,913.7 L1885.5,916.5 L1886.6,919.3 L1887.6,922.0 L1888.7,924.8 L1889.8,927.6 L1890.0,928.3" stroke="#0000ff" stroke-dasharray="55.74 33.83 9.09 33.83" stroke-dashoffset="67.59"/>
<path d="M297.1,1200.7 L301.2,1199.8 L305.3,1199.1 L309.6,1198.7 L314.0,1198.4 L318.5,1198.1 L323.0,1198.0 L327.6,1197.7 L332.2,1197.4 L336.7,1197.0 L341.2,1196.3 L345.6,1195.4 L349.9,1194.1 L353.8,1192.4 L357.3,1190.2 L360.2,1187.3 L362.6,1184.0 L364.5,1180.2 L366.1,1176.2 L367.5,1172.0 L368.8,1167.7 L370.4,1163.5 L372.2,1159.6 L374.3,1155.8 L376.7,1152.2 L379.2,1148.7 L381.9,1145.2 L384.8,1141.9 L387.7,1138.6 L390.6,1135.3 L393.5,1132.0 L396.4,1128.6 L399.2,1125.2 L401.9,1121.7 L404.5,1118.2 L407.0,1114.6 L409.4,1111.0 L411.8,1107.3 L414.1,1103.5 L416.3,1099.7 L418.5,1096.0 L420.7,1092.1 L422.9,1088.3 L425.1,1084.5 L427.3,1080.7 L429.5,1076.9 L431.7,1073.1 L433.9,1069.3 L436.2,1065.5 L438.5,1061.8 L440.7,1058.0 L443.0,1054.2 L445.2,1050.4 L447.5,1046.7 L449.7,1042.9 L451.9,1039.1 L454.1,1035.3 L456.2,1031.4 L458.3,1027.6 L460.4,1023.7 L462.5,1019.8 L464.5,1016.0 L466.5,1012.1 L468.5,1008.1 L470.5,1004.2 L472.5,1000.3 L474.4,996.3 L476.3,992.4 L478.1,988.4 L480.0,984.4 L481.8,980.4 L483.6,976.4 L485.4,972.4 L487.2,968.4 L488.9,964.4 L490.7,960.3 L492.4,956.3 L494.1,952.2 L495.7,948.1 L497.4,944.1 L499.0,940.0 L500.6,935.9 L502.2,931.8 L503.8,927.7 L505.4,923.6 L506.9,919.4 L508.4,915.3 L509.9,911.2 L511.4,907.1 L512.9,902.9 L514.4,898.8 L515.8,894.6 L517.3,890.5 L518.7,886.3 L520.1,882.1 L521.5,878.0 L522.9,873.8 L524.2,869.6 L525.6,865.4 L526.9,861.3 L528.3,857.1 L529.6,852.9 L530.9,848.7 L532.2,844.5 L533.5,840.3 L534.7,836.1 L536.0,831.9 L537.2,827.7 L538.4,823.5 L539.7,819.2 L540.9,815.0 L542.1,810.8 L543.2,806.6 L544.4,802.3 L545.6,798.1 L546.7,793.9 L547.8,789.6 L548.9,785.4 L550.0,781.1 L551.1,776.9 L552.2,772.6 L553.3,768.4 L554.3,764.1 L555.4,759.8 L556.4,755.6 L557.4,751.3 L558.4,747.0 L559.4,742.7 L560.4,738.4 L561.4,734.2 L562.3,729.9 L563.3,725.6 L564.2,721.3 L565.1,717.0 L566.0,712.7 L566.9,708.4 L567.8,704.1 L568.7,699.7 L569.5,695.4 L570.4,691.1 L571.2,686.8 L572.0,682.5 L572.8,678.1 L573.6,673.8 L574.4,669.5 L575.2,665.2 L575.9,660.8 L576.7,656.5 L577.4,652.2 L578.1,647.8 L578.8,643.5 L579.5,639.1 L580.2,634.8 L580.8,630.5 L581.5,626.1 L582.1,621.8 L582.7,617.4 L583.3,613.1 L583.9,608.7 L584.5,604.4 L585.1,600.0 L585.6,595.6 L586.2,591.3 L586.7,586.9 L587.3,582.6 L587.8,578.2 L588.3,573.8 L588.8,569.5 L589.3,565.1 L589.8,560.7 L590.2,556.4 L590.7,552.0 L591.1,547.6 L591.6,543.3 L592.0,538.9 L592.4,534.5 L592.9,530.2 L593.3,525.8 L593.7,521.4 L594.0,517.0 L594.4,512.6 L594.8,508.3 L595.2,503.9 L595.5,499.5 L595.9,495.1 L596.2,490.7 L596.6,486.4 L596.9,482.0 L597.2,477.6 L597.5,473.2 L597.9,468.8 L598.2,464.4 L598.5,460.1 L598.8,455.7 L599.1,451.3 L599.4,446.9 L599.7,442.5 L600.0,438.1 L600.3,433.7 L600.6,429.4 L600.9,425.0 L601.2,420.6 L601.6,416.2 L601.9,411.8 L602.2,407.4 L602.6,403.1 L602.9,398.7 L603.3,394.3 L603.6,389.9 L604.0,385.6 L604.4,381.2 L604.8,376.8 L605.2,372.4 L605.7,368.1 L606.1,363.7 L606.5,359.3 L607.0,355.0 L607.5,350.6 L608.0,346.2 L608.5,341.9 L609.0,337.5 L609.5,333.1 L610.0,328.8 L610.6,324.4 L611.1,320.1 L611.7,315.7 L612.3,311.4 L612.9,307.0 L613.5,302.7 L614.1,298.3 L614.7,294.0 L615.3,289.6 L615.9,285.3 L616.6,280.9 L617.2,276.6 L617.9,272.2 L618.5,267.9 L619.2,263.5 L619.9,259.2 L620.6,254.8 L621.3,250.5 L622.0,246.2 L622.7,241.8 L623.4,237.5 L624.1,233.1 L624.8,228.8 L625.6,224.5 L626.3,220.1 L627.0,215.8 L627.8,211.5 L628.5,207.1 L629.3,202.8 L630.1,198.5 L630.8,194.1 L631.6,189.8 L632.4,185.5 L633.1,181.1 L633.9,176.8 L634.7,172.5 L635.5,168.1 L636.3,163.8 L637.1,159.5 L637.8,155.2 L638.6,150.8 L639.4,146.5 L640.3,142.2 L641.1,137.9 L642.1,133.6 L643.1,129.4 L644.3,125.2 L645.6,121.0 L647.1,117.0 L648.8,113.0 L650.8,109.1 L653.0,105.2 L655.5,101.5 L658.2,98.0 L661.3,94.5 L664.5,91.3 L668.0,88.3 L671.7,85.6 L675.5,83.2 L679.4,81.1 L683.4,79.3 L687.5,77.9 L691.7,76.8 L696.0,76.0 L700.3,75.5 L704.6,75.2 L709.0,75.0 L713.4,74.9 L717.8,74.8 L722.2,74.8 L726.6,74.7 L731.0,74.7 L735.4,74.6 L739.8,74.6 L744.2,74.6 L748.6,74.5 L753.0,74.5 L757.4,74.5 L761.8,74.5 L766.2,74.5 L770.6,74.5 L775.0,74.5 L779.4,74.5 L783.8,74.5 L788.2,74.5 L792.6,74.5 L797.0,74.5 L801.4,74.5 L805.8,74.6 L810.2,74.6 L814.6,74.6 L819.0,74.6 L823.4,74.6 L827.8,74.7 L832.1,74.7 L836.5,74.7 L840.9,74.7 L845.3,74.8 L849.7,74.8 L854.1,74.8 L858.5,74.8 L862.9,74.8 L867.3,74.8 L871.7,74.8 L876.1,74.9 L880.5,74.9 L884.9,74.9 L889.2,74.9 L893.6,74.8 L898.0,74.8 L902.4,74.8 L906.8,74.8 L911.2,74.8 L915.6,74.8 L920.0,74.7 L924.4,74.7 L928.8,74.7 L933.2,74.6 L937.6,74.6 L942.0,74.6 L946.4,74.6 L950.8,74.5 L955.2,74.5 L959.6,74.5 L964.0,74.5 L968.4,74.5 L972.8,74.5 L977.2,74.5 L981.6,74.6 L986.0,74.6 L990.4,74.7 L994.8,74.7 L999.1,74.8 L1003.5,74.9 L1007.9,75.0 L1012.3,75.1 L1016.7,75.2 L1021.1,75.3 L1025.5,75.5 L1029.9,75.6 L1034.3,75.8 L1038.6,76.0 L1043.0,76.3 L1047.4,76.5 L1051.8,76.8 L1056.2,77.1 L1060.6,77.5 L1064.9,77.8 L1069.3,78.3 L1073.7,78.7 L1078.1,79.3 L1082.4,79.8 L1086.8,80.5 L1091.2,81.2 L1095.5,81.9 L1099.9,82.7 L1104.3,83.5 L1108.6,84.2 L1113.0,84.9 L1117.3,85.5 L1121.7,86.1 L1126.1,86.5 L1130.4,86.8 L1134.8,86.9 L1139.1,86.8 L1143.4,86.6 L1147.8,86.2 L1152.1,85.7 L1156.5,85.1 L1160.8,84.3 L1165.2,83.5 L1169.5,82.7 L1173.9,81.8 L1178.2,80.9 L1182.5,80.0 L1186.9,79.2 L1191.2,78.4 L1195.6,77.7 L1199.9,77.0 L1204.3,76.5 L1208.6,76.1 L1213.0,75.8 L1217.3,75.6 L1221.7,75.4 L1226.1,75.3 L1230.5,75.1 L1234.8,75.0 L1239.3,74.9 L1243.7,74.7 L1248.1,74.6 L1252.5,74.5 L1256.9,74.4 L1261.4,74.4 L1265.8,74.4 L1270.2,74.5 L1274.6,74.6 L1279.0,74.8 L1283.4,75.2 L1287.7,75.6 L1292.1,76.2 L1296.4,76.9 L1300.7,77.7 L1304.9,78.6 L1309.2,79.7 L1313.4,80.9 L1317.6,82.2 L1321.8,83.4 L1326.0,84.8 L1330.2,86.1 L1334.4,87.4 L1338.6,88.7 L1342.8,89.9 L1347.1,91.0 L1351.3,92.0 L1355.6,92.9 L1360.0,93.6 L1364.3,94.2 L1368.7,94.7 L1373.2,95.0 L1377.6,95.3 L1382.0,95.5 L1386.5,95.6 L1391.0,95.7 L1395.5,95.8 L1399.9,95.8 L1404.4,95.9 L1408.9,95.9 L1413.3,96.1 L1417.7,96.2 L1422.2,96.5 L1426.6,96.8 L1430.9,97.2 L1435.3,97.8 L1439.6,98.5 L1443.8,99.2 L1448.1,100.1 L1452.3,101.1 L1456.5,102.1 L1460.7,103.3 L1464.8,104.6 L1468.9,105.9 L1473.0,107.3 L1477.0,108.9 L1481.0,110.5 L1485.0,112.2 L1489.0,113.9 L1492.9,115.8 L1496.9,117.7 L1500.7,119.7 L1504.6,121.7 L1508.4,123.8 L1512.2,126.0 L1516.0,128.3 L1519.8,130.5 L1523.5,132.9 L1527.2,135.3 L1530.9,137.8 L1534.5,140.3 L1538.2,142.8 L1541.8,145.4 L1545.3,148.0 L1548.9,150.7 L1552.4,153.4 L1555.9,156.1 L1559.4,158.8 L1562.8,161.6 L1566.3,164.4 L1569.7,167.2 L1573.0,170.1 L1576.4,173.0 L1579.7,175.9 L1583.0,178.8 L1586.3,181.7 L1589.6,184.6 L1592.8,187.6 L1596.1,190.6 L1599.3,193.6 L1602.4,196.6 L1605.6,199.7 L1608.7,202.7 L1611.8,205.8 L1614.9,208.9 L1618.0,212.0 L1621.1,215.2 L1624.1,218.3 L1627.2,221.5 L1630.2,224.7 L1633.2,227.9 L1636.1,231.1 L1639.1,234.3 L1642.0,237.5 L1644.9,240.8 L1647.9,244.1 L1650.7,247.4 L1653.6,250.7 L1656.5,254.0 L1659.3,257.3 L1662.2,260.6 L1665.0,264.0 L1667.8,267.3 L1670.6,270.7 L1673.4,274.1 L1676.1,277.5 L1678.9,280.9 L1681.6,284.3 L1684.4,287.7 L1687.1,291.2 L1689.8,294.6 L1692.5,298.1 L1695.2,301.6 L1697.9,305.0 L1700.5,308.5 L1703.2,312.0 L1705.8,315.5 L1708.5,319.0 L1711.1,322.5 L1713.8,326.0 L1716.4,329.6 L1719.0,333.1 L1721.6,336.6 L1724.2,340.2 L1726.8,343.7 L1729.4,347.3 L1732.0,350.9 L1734.5,354.4 L1737.1,358.0 L1739.7,361.6 L1742.2,365.2 L1744.8,368.7 L1747.4,372.3 L1749.9,375.9 L1752.5,379.5 L1755.0,383.1 L1757.6,386.7 L1760.1,390.3 L1762.6,393.9 L1765.2,397.5 L1767.7,401.1 L1770.3,404.7 L1772.8,408.3 L1775.3,411.9 L1777.9,415.5 L1780.4,419.1 L1783.0,422.7 L1785.5,426.3 L1788.1,429.9 L1790.6,433.5 L1793.2,437.1 L1795.7,440.6 L1798.3,444.2 L1800.8,447.8 L1803.4,451.4 L1806.0,455.0 L1808.5,458.5 L1811.1,462.1 L1813.7,465.7 L1816.3,469.2 L1818.9,472.8 L1821.5,476.3 L1824.1,479.9 L1826.7,483.4 L1829.3,486.9 L1831.9,490.4 L1834.6,493.9 L1837.2,497.5 L1839.9,501.0 L1842.5,504.4 L1845.2,507.9 L1847.9,511.4 L1850.6,514.9 L1853.3,518.3 L1856.0,521.8 L1858.7,525.2 L1861.4,528.6 L1864.2,532.0 L1866.9,535.4 L1869.7,538.8" stroke="#808000"/>
<path d="M270.0,1200.0 L273.0,1199.8 L275.9,1199.6 L278.9,1199.4 L281.8,1199.2 L284.7,1199.1 L287.6,1198.9 L290.4,1198.8 L293.3,1198.8 L296.1,1198.7 L298.9,1198.7 L301.7,1198.7 L304.5,1198.6 L307.3,1198.6 L310.1,1198.6 L312.8,1198.6 L315.5,1198.6 L318.3,1198.7 L321.0,1198.7 L323.7,1198.7 L326.4,1198.7 L329.2,1198.7 L331.9,1198.6 L334.6,1198.6 L337.3,1198.6 L340.0,1198.5 L342.7,1198.4 L345.4,1198.3 L348.1,1198.2 L350.8,1198.1 L353.5,1197.9 L356.3,1197.7 L359.0,1197.5 L361.8,1197.2 L364.5,1196.9 L367.3,1196.6 L370.0,1196.2 L372.8,1195.8 L375.6,1195.3 L378.4,1194.8 L381.3,1194.3 L384.1,1193.7 L386.9,1193.1 L389.7,1192.4 L392.6,1191.7 L395.4,1191.0 L398.2,1190.2 L401.1,1189.3 L403.9,1188.5 L406.7,1187.6 L409.5,1186.6 L412.3,1185.7 L415.1,1184.6 L417.8,1183.6 L420.6,1182.5 L423.3,1181.4 L426.0,1180.2 L428.7,1179.0 L431.3,1177.7 L434.0,1176.4 L436.6,1175.1 L439.2,1173.8 L441.7,1172.4 L444.2,1170.9 L446.7,1169.5 L449.1,1168.0 L451.5,1166.4 L453.9,1164.9 L456.2,1163.3 L458.5,1161.6 L460.8,1159.9 L463.0,1158.2 L465.1,1156.5 L467.2,1154.7 L469.3,1152.9 L471.3,1151.0 L473.2,1149.2 L475.2,1147.3 L477.1,1145.3 L478.9,1143.3 L480.7,1141.3 L482.5,1139.3 L484.2,1137.3 L485.9,1135.2 L487.6,1133.1 L489.2,1130.9 L490.8,1128.7 L492.3,1126.5 L493.8,1124.3 L495.3,1122.1 L496.7,1119.8 L498.1,1117.5 L499.5,1115.2 L500.9,1112.9 L502.2,1110.5 L503.4,1108.1 L504.7,1105.7 L505.9,1103.3 L507.1,1100.8 L508.3,1098.4 L509.4,1095.9 L510.5,1093.4 L511.6,1090.9 L512.7,1088.3 L513.7,1085.8 L514.7,1083.2 L515.7,1080.6 L516.7,1078.0 L517.6,1075.4 L518.5,1072.8 L519.4,1070.1 L520.3,1067.5 L521.1,1064.8 L522.0,1062.1 L522.8,1059.4 L523.6,1056.7 L524.4,1054.0 L525.1,1051.3 L525.9,1048.5 L526.6,1045.8 L527.3,1043.0 L528.0,1040.2 L528.7,1037.5 L529.4,1034.7 L530.1,1031.9 L530.7,1029.1 L531.0,1027.7" stroke="#000080" stroke-dasharray="18.46 29.14" stroke-dashoffset="2.25"/>
<path d="M530.7,1029.1 L531.4,1026.3 L532.0,1023.5 L532.6,1020.7 L533.2,1017.9 L533.8,1015.1 L534.4,1012.3 L535.0,1009.5 L535.6,1006.6 L536.2,1003.8 L536.7,1001.0 L537.3,998.2 L537.8,995.4 L538.4,992.5 L538.9,989.7 L539.5,986.9 L540.0,984.1 L540.6,981.3 L541.1,978.5 L541.6,975.7 L542.2,972.9 L542.7,970.0 L543.2,967.2 L543.7,964.4 L544.3,961.6 L544.8,958.8 L545.3,956.0 L545.8,953.2 L546.3,950.4 L546.8,947.6 L547.3,944.8 L547.8,942.0 L548.3,939.2 L548.8,936.5 L549.3,933.7 L549.8,930.9 L550.3,928.1 L550.8,925.3 L551.2,922.5 L551.7,919.7 L552.2,916.9 L552.7,914.2 L553.1,911.4 L553.6,908.6 L554.1,905.8 L554.5,903.0 L555.0,900.2 L555.4,897.5 L555.9,894.7 L556.4,891.9 L556.8,889.1 L557.3,886.4 L557.7,883.6 L558.1,880.8 L558.6,878.0 L559.0,875.3 L559.5,872.5 L559.9,869.7 L560.3,866.9 L560.8,864.2 L561.2,861.4 L561.6,858.6 L562.0,855.9 L562.5,853.1 L562.9,850.3 L563.3,847.6 L563.7,844.8 L564.1,842.0 L564.6,839.3 L565.0,836.5 L565.4,833.7 L565.8,831.0 L566.2,828.2 L566.6,825.4 L567.0,822.7 L567.4,819.9 L567.8,817.1 L568.2,814.4 L568.6,811.6 L569.0,808.8 L569.4,806.1 L569.8,803.3 L570.2,800.5 L570.6,797.8 L571.0,795.0 L571.3,792.3 L571.7,789.5 L572.1,786.7 L572.5,784.0 L572.9,781.2 L573.3,778.4 L573.6,775.7 L574.0,772.9 L574.4,770.2 L574.8,767.4 L575.1,764.6 L575.5,761.9 L575.9,759.1 L576.3,756.3 L576.6,753.6 L577.0,750.8 L577.4,748.0 L577.7,745.3 L578.1,742.5 L578.5,739.7 L578.8,737.0 L579.2,734.2 L579.6,731.5 L579.9,728.7 L580.3,725.9 L580.6,723.1 L581.0,720.4 L581.4,717.6 L581.7,714.8 L582.1,712.1 L582.4,709.3 L582.8,706.5 L583.2,703.8 L583.5,701.0 L583.9,698.2 L584.2,695.4 L584.6,692.7 L584.9,689.9 L585.3,687.1 L585.6,684.3 L586.0,681.6 L586.1,680.9" stroke="#000080" stroke-dasharray="18.46 29.14" stroke-dashoffset="21.72"/>
<path d="M585.9,682.3 L586.3,679.5 L586.6,676.7 L587.0,673.9 L587.3,671.1 L587.7,668.4 L588.0,665.6 L588.4,662.8 L588.7,660.0 L589.1,657.2 L589.4,654.4 L589.8,651.7 L590.1,648.9 L590.5,646.1 L590.8,643.3 L591.2,640.5 L591.5,637.7 L591.9,634.9 L592.2,632.1 L592.6,629.3 L592.9,626.6 L593.3,623.8 L593.6,621.0 L594.0,618.2 L594.3,615.4 L594.6,612.6 L595.0,609.8 L595.3,607.0 L595.7,604.2 L596.0,601.4 L596.4,598.6 L596.7,595.8 L597.0,593.0 L597.4,590.2 L597.7,587.4 L598.1,584.6 L598.4,581.8 L598.7,579.0 L599.1,576.2 L599.4,573.4 L599.8,570.6 L600.1,567.8 L600.4,565.0 L600.8,562.2 L601.1,559.4 L601.4,556.6 L601.8,553.8 L602.1,551.0 L602.4,548.2 L602.7,545.4 L603.1,542.5 L603.4,539.7 L603.7,536.9 L604.1,534.1 L604.4,531.3 L604.7,528.5 L605.0,525.7 L605.3,522.9 L605.7,520.1 L606.0,517.3 L606.3,514.5 L606.6,511.7 L606.9,508.9 L607.3,506.1 L607.6,503.2 L607.9,500.4 L608.2,497.6 L608.5,494.8 L608.8,492.0 L609.1,489.2 L609.4,486.4 L609.7,483.6 L610.0,480.8 L610.3,478.0 L610.7,475.2 L611.0,472.4 L611.3,469.5 L611.6,466.7 L611.9,463.9 L612.2,461.1 L612.5,458.3 L612.7,455.5 L613.0,452.7 L613.3,449.9 L613.6,447.1 L613.9,444.3 L614.2,441.5 L614.5,438.7 L614.8,435.9 L615.1,433.1 L615.4,430.3 L615.7,427.5 L616.0,424.7 L616.3,421.9 L616.6,419.1 L616.9,416.3 L617.2,413.5 L617.4,410.7 L617.7,407.9 L618.0,405.1 L618.3,402.3 L618.6,399.5 L618.9,396.7 L619.2,393.9 L619.5,391.1 L619.8,388.3 L620.1,385.5 L620.4,382.7 L620.7,379.9 L621.0,377.1 L621.3,374.4 L621.6,371.6 L621.9,368.8 L622.2,366.0 L622.5,363.2 L622.8,360.5 L623.1,357.7 L623.4,354.9 L623.7,352.1 L624.0,349.3 L624.4,346.6 L624.7,343.8 L625.0,341.0 L625.3,338.3 L625.6,335.5 L625.9,332.7 L626.0,332.0" stroke="#000080" stroke-dasharray="18.46 29.14" stroke-dashoffset="45.70"/>
<path d="M625.9,333.4 L626.2,330.7 L626.5,327.9 L626.8,325.1 L627.2,322.4 L627.5,319.6 L627.8,316.9 L628.2,314.1 L628.5,311.4 L628.8,308.6 L629.2,305.9 L629.5,303.1 L629.8,300.4 L630.2,297.6 L630.5,294.9 L630.9,292.2 L631.2,289.4 L631.6,286.7 L632.0,283.9 L632.3,281.2 L632.7,278.5 L633.0,275.7 L633.4,273.0 L633.8,270.3 L634.1,267.5 L634.5,264.8 L634.8,262.0 L635.2,259.3 L635.5,256.5 L635.9,253.7 L636.2,251.0 L636.6,248.2 L636.9,245.4 L637.3,242.6 L637.6,239.8 L637.9,237.0 L638.3,234.2 L638.6,231.4 L638.9,228.6 L639.2,225.8 L639.6,222.9 L639.9,220.1 L640.2,217.2 L640.5,214.3 L640.7,211.4 L641.0,208.6 L641.3,205.6 L641.6,202.7 L641.8,199.8 L642.1,196.9 L642.4,193.9 L642.6,190.9 L642.9,188.0 L643.2,185.0 L643.5,182.1 L643.8,179.1 L644.1,176.2 L644.4,173.2 L644.8,170.3 L645.2,167.4 L645.6,164.5 L646.0,161.6 L646.5,158.7 L647.0,155.9 L647.5,153.1 L648.1,150.3 L648.7,147.5 L649.4,144.8 L650.1,142.1 L650.9,139.4 L651.7,136.7 L652.6,134.1 L653.6,131.6 L654.6,129.1 L655.6,126.6 L656.8,124.2 L658.0,121.8 L659.3,119.5 L660.6,117.2 L662.1,115.0 L663.6,112.8 L665.2,110.7 L666.9,108.7 L668.6,106.7 L670.4,104.8 L672.3,102.9 L674.3,101.1 L676.3,99.4 L678.4,97.7 L680.6,96.0 L682.8,94.5 L685.1,92.9 L687.4,91.5 L689.7,90.1 L692.2,88.7 L694.6,87.4 L697.1,86.2 L699.7,85.0 L702.3,83.9 L704.9,82.8 L707.5,81.8 L710.2,80.8 L712.9,79.9 L715.7,79.1 L718.4,78.3 L721.2,77.5 L724.0,76.8 L726.8,76.2 L729.6,75.6 L732.5,75.1 L735.3,74.6 L738.2,74.2 L741.0,73.8 L743.9,73.5 L746.8,73.2 L749.6,73.0 L752.5,72.9 L755.3,72.8 L758.1,72.7 L761.0,72.7 L763.8,72.7 L766.6,72.7 L769.5,72.7 L772.3,72.8 L775.1,72.9 L777.9,73.0 L779.3,73.0" stroke="#000080" stroke-dasharray="18.46 29.14" stroke-dashoffset="21.40"/>
<path d="M777.9,73.0 L780.7,73.0 L783.6,73.1 L786.4,73.2 L789.2,73.3 L792.0,73.3 L794.8,73.4 L797.6,73.5 L800.4,73.5 L803.3,73.6 L806.1,73.7 L808.9,73.7 L811.7,73.8 L814.5,73.8 L817.3,73.9 L820.1,73.9 L822.9,74.0 L825.7,74.0 L828.6,74.0 L831.4,74.1 L834.2,74.1 L837.0,74.1 L839.8,74.2 L842.6,74.2 L845.4,74.2 L848.2,74.3 L851.0,74.3 L853.8,74.3 L856.6,74.3 L859.4,74.3 L862.2,74.4 L865.0,74.4 L867.9,74.4 L870.7,74.4 L873.5,74.4 L876.3,74.4 L879.1,74.4 L881.9,74.4 L884.7,74.4 L887.5,74.4 L890.3,74.4 L893.1,74.4 L895.9,74.4 L898.7,74.4 L901.5,74.4 L904.3,74.4 L907.1,74.3 L909.9,74.3 L912.7,74.3 L915.5,74.3 L918.3,74.3 L921.1,74.3 L923.9,74.2 L926.7,74.2 L929.6,74.2 L932.4,74.2 L935.2,74.1 L938.0,74.1 L940.8,74.1 L943.6,74.0 L946.4,74.0 L949.2,74.0 L952.0,73.9 L954.8,73.9 L957.6,73.9 L960.4,73.8 L963.2,73.8 L966.0,73.7 L968.8,73.7 L971.7,73.7 L974.5,73.6 L977.3,73.6 L980.1,73.5 L982.9,73.5 L985.7,73.4 L988.5,73.4 L991.3,73.3 L994.1,73.3 L997.0,73.2 L999.8,73.2 L1002.6,73.1 L1005.4,73.1 L1008.2,73.0 L1011.0,73.0 L1013.8,72.9 L1016.7,72.9 L1019.5,72.8 L1022.3,72.7 L1025.1,72.7 L1027.9,72.6 L1030.7,72.6 L1033.6,72.5 L1036.4,72.5 L1039.2,72.4 L1042.0,72.3 L1044.8,72.3 L1047.6,72.2 L1050.5,72.2 L1053.3,72.1 L1056.1,72.1 L1058.9,72.0 L1061.7,72.0 L1064.5,71.9 L1067.4,71.8 L1070.2,71.8 L1073.0,71.7 L1075.8,71.7 L1078.6,71.6 L1081.4,71.6 L1084.3,71.5 L1087.1,71.5 L1089.9,71.4 L1092.7,71.4 L1095.5,71.4 L1098.3,71.3 L1101.1,71.3 L1104.0,71.2 L1106.8,71.2 L1109.6,71.2 L1112.4,71.1 L1115.2,71.1 L1118.0,71.0 L1120.8,71.0 L1123.6,71.0 L1126.4,71.0 L1129.2,70.9 L1130.6,70.9" stroke="#000080" stroke-dasharray="18.46 29.14" stroke-dashoffset="30.07"/>
<path d="M1129.2,70.9 L1132.1,70.9 L1134.9,70.9 L1137.7,70.9 L1140.5,70.8 L1143.3,70.8 L1146.1,70.8 L1148.9,70.8 L1151.7,70.8 L1154.5,70.8 L1157.3,70.8 L1160.1,70.8 L1162.9,70.8 L1165.7,70.8 L1168.5,70.8 L1171.2,70.8 L1174.0,70.8 L1176.8,70.8 L1179.6,70.8 L1182.4,70.9 L1185.2,70.9 L1188.0,70.9 L1190.8,70.9 L1193.5,71.0 L1196.3,71.0 L1199.1,71.0 L1201.9,71.1 L1204.7,71.1 L1207.5,71.2 L1210.2,71.2 L1213.0,71.3 L1215.8,71.3 L1218.6,71.4 L1221.4,71.5 L1224.2,71.5 L1227.0,71.6 L1229.8,71.7 L1232.5,71.8 L1235.3,71.8 L1238.1,71.9 L1240.9,72.0 L1243.7,72.1 L1246.6,72.2 L1249.4,72.3 L1252.2,72.4 L1255.0,72.6 L1257.8,72.7 L1260.6,72.8 L1263.5,72.9 L1266.3,73.1 L1269.1,73.2 L1272.0,73.3 L1274.8,73.5 L1277.7,73.6 L1280.6,73.8 L1283.4,73.9 L1286.3,74.1 L1289.2,74.3 L1292.1,74.5 L1294.9,74.7 L1297.8,74.9 L1300.7,75.1 L1303.6,75.3 L1306.4,75.6 L1309.3,75.9 L1312.2,76.2 L1315.0,76.5 L1317.8,76.9 L1320.7,77.3 L1323.5,77.7 L1326.3,78.1 L1329.1,78.6 L1331.8,79.1 L1334.6,79.7 L1337.3,80.3 L1340.0,81.0 L1342.7,81.7 L1345.4,82.4 L1348.0,83.2 L1350.6,84.1 L1353.2,85.0 L1355.8,85.9 L1358.3,86.9 L1360.8,88.0 L1363.2,89.1 L1365.6,90.3 L1368.0,91.6 L1370.4,92.9 L1372.7,94.3 L1374.9,95.8 L1377.2,97.3 L1379.3,99.0 L1381.5,100.6 L1383.6,102.4 L1385.7,104.1 L1387.7,106.0 L1389.8,107.9 L1391.8,109.8 L1393.7,111.8 L1395.7,113.8 L1397.6,115.9 L1399.5,118.0 L1401.4,120.2 L1403.3,122.3 L1405.1,124.5 L1406.9,126.7 L1408.8,129.0 L1410.6,131.2 L1412.4,133.5 L1414.2,135.8 L1416.0,138.1 L1417.8,140.4 L1419.6,142.7 L1421.4,145.0 L1423.2,147.3 L1425.0,149.6 L1426.8,151.9 L1428.6,154.2 L1430.4,156.4 L1432.2,158.7 L1434.1,160.9 L1436.0,163.1 L1437.8,165.3 L1439.7,167.4 L1441.6,169.5 L1443.6,171.6 L1443.6,171.6" stroke="#000080" stroke-dasharray="18.46 29.14" stroke-dashoffset="47.52"/>
<path d="M1442.6,170.6 L1444.5,172.6 L1446.5,174.7 L1448.4,176.7 L1450.4,178.8 L1452.4,180.8 L1454.3,182.7 L1456.3,184.7 L1458.3,186.7 L1460.3,188.7 L1462.3,190.6 L1464.3,192.6 L1466.3,194.5 L1468.3,196.5 L1470.3,198.4 L1472.3,200.4 L1474.2,202.4 L1476.2,204.3 L1478.2,206.3 L1480.2,208.3 L1482.1,210.3 L1484.1,212.3 L1486.0,214.3 L1487.9,216.3 L1489.9,218.3 L1491.8,220.3 L1493.7,222.3 L1495.7,224.4 L1497.6,226.4 L1499.5,228.4 L1501.4,230.5 L1503.3,232.5 L1505.2,234.6 L1507.1,236.6 L1509.0,238.7 L1510.9,240.8 L1512.8,242.8 L1514.6,244.9 L1516.5,247.0 L1518.4,249.1 L1520.2,251.2 L1522.1,253.2 L1523.9,255.3 L1525.8,257.4 L1527.6,259.5 L1529.5,261.7 L1531.3,263.8 L1533.1,265.9 L1534.9,268.0 L1536.8,270.1 L1538.6,272.3 L1540.4,274.4 L1542.2,276.6 L1544.0,278.7 L1545.8,280.8 L1547.6,283.0 L1549.4,285.2 L1551.2,287.3 L1553.0,289.5 L1554.7,291.6 L1556.5,293.8 L1558.3,296.0 L1560.0,298.2 L1561.8,300.3 L1563.6,302.5 L1565.3,304.7 L1567.1,306.9 L1568.8,309.1 L1570.6,311.3 L1572.3,313.5 L1574.0,315.7 L1575.8,317.9 L1577.5,320.1 L1579.2,322.4 L1581.0,324.6 L1582.7,326.8 L1584.4,329.0 L1586.1,331.3 L1587.8,333.5 L1589.5,335.7 L1591.2,338.0 L1592.9,340.2 L1594.6,342.5 L1596.3,344.7 L1598.0,347.0 L1599.7,349.2 L1601.3,351.5 L1603.0,353.7 L1604.7,356.0 L1606.4,358.2 L1608.0,360.5 L1609.7,362.8 L1611.4,365.0 L1613.0,367.3 L1614.7,369.6 L1616.3,371.9 L1618.0,374.2 L1619.6,376.4 L1621.3,378.7 L1622.9,381.0 L1624.6,383.3 L1626.2,385.6 L1627.8,387.9 L1629.5,390.2 L1631.1,392.5 L1632.7,394.8 L1634.3,397.1 L1636.0,399.4 L1637.6,401.7 L1639.2,404.0 L1640.8,406.3 L1642.4,408.6 L1644.0,410.9 L1645.6,413.3 L1647.2,415.6 L1648.8,417.9 L1650.4,420.2 L1652.0,422.5 L1653.6,424.9 L1655.2,427.2 L1656.8,429.5 L1658.4,431.8 L1660.0,434.2 L1661.5,436.5 L1663.1,438.8 L1664.7,441.1 L1665.9,442.9" stroke="#000080" stroke-dasharray="18.46 29.14" stroke-dashoffset="16.55"/>
<path d="M1665.1,441.7 L1666.7,444.1 L1668.2,446.4 L1669.8,448.7 L1671.4,451.1 L1672.9,453.4 L1674.5,455.7 L1676.1,458.1 L1677.6,460.4 L1679.2,462.8 L1680.7,465.1 L1682.3,467.5 L1683.9,469.8 L1685.4,472.1 L1687.0,474.5 L1688.5,476.8 L1690.1,479.2 L1691.6,481.5 L1693.1,483.9 L1694.7,486.2 L1696.2,488.6 L1697.8,490.9 L1699.3,493.3 L1700.8,495.6 L1702.4,498.0 L1703.9,500.3 L1705.4,502.7 L1707.0,505.0 L1708.5,507.4 L1710.0,509.7 L1711.6,512.1 L1713.1,514.4 L1714.6,516.8 L1716.1,519.1 L1717.7,521.5 L1719.2,523.8 L1720.7,526.2 L1722.2,528.5 L1723.7,530.9 L1725.3,533.2 L1726.8,535.6 L1728.3,537.9 L1729.8,540.3 L1731.4,542.6 L1732.9,545.0 L1734.4,547.4 L1735.9,549.7 L1737.4,552.1 L1738.9,554.4 L1740.5,556.8 L1742.0,559.1 L1743.5,561.5 L1745.0,563.8 L1746.6,566.2 L1748.1,568.5 L1749.6,570.9 L1751.1,573.2 L1752.6,575.6 L1754.2,577.9 L1755.7,580.3 L1757.2,582.6 L1758.8,585.0 L1760.3,587.3 L1761.8,589.7 L1763.3,592.1 L1764.9,594.4 L1766.4,596.8 L1767.9,599.1 L1769.5,601.5 L1771.0,603.8 L1772.6,606.2 L1774.1,608.5 L1775.6,610.9 L1777.2,613.2 L1778.7,615.6 L1780.3,617.9 L1781.8,620.3 L1783.4,622.6 L1784.9,625.0 L1786.5,627.3 L1788.1,629.7 L1789.6,632.0 L1791.2,634.4 L1792.8,636.7 L1794.3,639.1 L1795.9,641.4 L1797.5,643.8 L1799.0,646.1 L1800.6,648.5 L1802.2,650.8 L1803.8,653.2 L1805.4,655.5 L1807.0,657.9 L1808.6,660.2 L1810.2,662.6 L1811.8,664.9 L1813.4,667.2 L1815.0,669.6 L1816.6,671.9 L1818.2,674.3 L1819.8,676.6 L1821.4,678.9 L1823.0,681.2 L1824.6,683.5 L1826.2,685.9 L1827.8,688.2 L1829.5,690.5 L1831.1,692.7 L1832.7,695.0 L1834.3,697.3 L1835.9,699.6 L1837.5,701.8 L1839.1,704.1 L1840.7,706.3 L1842.3,708.5 L1843.9,710.7 L1845.5,712.9 L1847.1,715.1 L1848.6,717.3 L1850.2,719.5 L1851.8,721.6 L1853.4,723.8 L1854.9,725.9 L1856.5,728.0 L1858.1,729.9 L1860.2,729.9 L1861.6,728.4" stroke="#000080" stroke-dasharray="18.46 29.14" stroke-dashoffset="37.03"/>
</g>
<text x="245.5" y="1227.0" font-size="82" text-anchor="end">0</text>
<text x="245.5" y="999.0" font-size="82" text-anchor="end">20</text>
<text x="245.5" y="771.0" font-size="82" text-anchor="end">40</text>
<text x="245.5" y="543.0" font-size="82" text-anchor="end">60</text>
<text x="245.5" y="315.0" font-size="82" text-anchor="end">80</text>
<text x="245.5" y="87.0" font-size="82" text-anchor="end">100</text>
<text x="428.2" y="1302.5" font-size="82" text-anchor="middle">100</text>
<text x="717.7" y="1302.5" font-size="82" text-anchor="middle">200</text>
<text x="1007.1" y="1302.5" font-size="82" text-anchor="middle">300</text>
<text x="1296.6" y="1302.5" font-size="82" text-anchor="middle">400</text>
<text x="1586.0" y="1302.5" font-size="82" text-anchor="middle">500</text>
<text x="1875.5" y="1302.5" font-size="82" text-anchor="middle">600</text>
<text x="722" y="1386.8" font-size="92.3">Temperature (°C)</text>
<text transform="translate(105.2,1028.1) rotate(-90) scale(0.9215,1)" font-size="96">NO<tspan font-size="55" font-style="italic" dx="0.0" dy="35.7">x</tspan><tspan dx="0.0" dy="-35.7"> conversion (%)</tspan></text>
<path d="M730,474.5 H871" stroke="#ff0000" stroke-width="9" fill="none" stroke-dasharray="1 14.57"/>
<text x="882" y="513.0" font-size="86.6">Cu/ZSM-5</text>
<path d="M732,591.9 H876" stroke="#ff00ff" stroke-width="10" fill="none" stroke-dasharray="36 45"/>
<text x="882" y="627.7" font-size="86.6">CuZr<tspan font-size="52" dy="32">1</tspan><tspan dy="-32">/ZSM-5</tspan></text>
<path d="M733,706.5 H876" stroke="#008080" stroke-width="9" fill="none" stroke-dasharray="26 18 1 18"/>
<text x="882" y="748.0" font-size="86.6">CuCe<tspan font-size="52" dy="32">0.25</tspan><tspan dy="-32">Zr</tspan><tspan font-size="52" dy="32">0.75</tspan><tspan dy="-32">/ZSM-5</tspan></text>
<path d="M736,840.0 H879" stroke="#0000ff" stroke-width="10" fill="none" stroke-dasharray="43 26 7 26"/>
<text x="882" y="877.2" font-size="86.6">CuCe<tspan font-size="52" dy="32">0.5</tspan><tspan dy="-32">Zr</tspan><tspan font-size="52" dy="32">0.5</tspan><tspan dy="-32">/ZSM-5</tspan></text>
<path d="M732,953.0 H876" stroke="#808000" stroke-width="10" fill="none"/>
<text x="882" y="991.0" font-size="86.6">CuCe<tspan font-size="52" dy="32">0.75</tspan><tspan dy="-32">Zr</tspan><tspan font-size="52" dy="32">0.25</tspan><tspan dy="-32">/ZSM-5</tspan></text>
<path d="M733,1065.5 H876" stroke="#000080" stroke-width="9" fill="none" stroke-dasharray="14.5 22.5"/>
<text x="882" y="1101.0" font-size="86.6">CuCe<tspan font-size="52" dy="32">1</tspan><tspan dy="-32">/ZSM-5</tspan></text>
</svg></body></html>
